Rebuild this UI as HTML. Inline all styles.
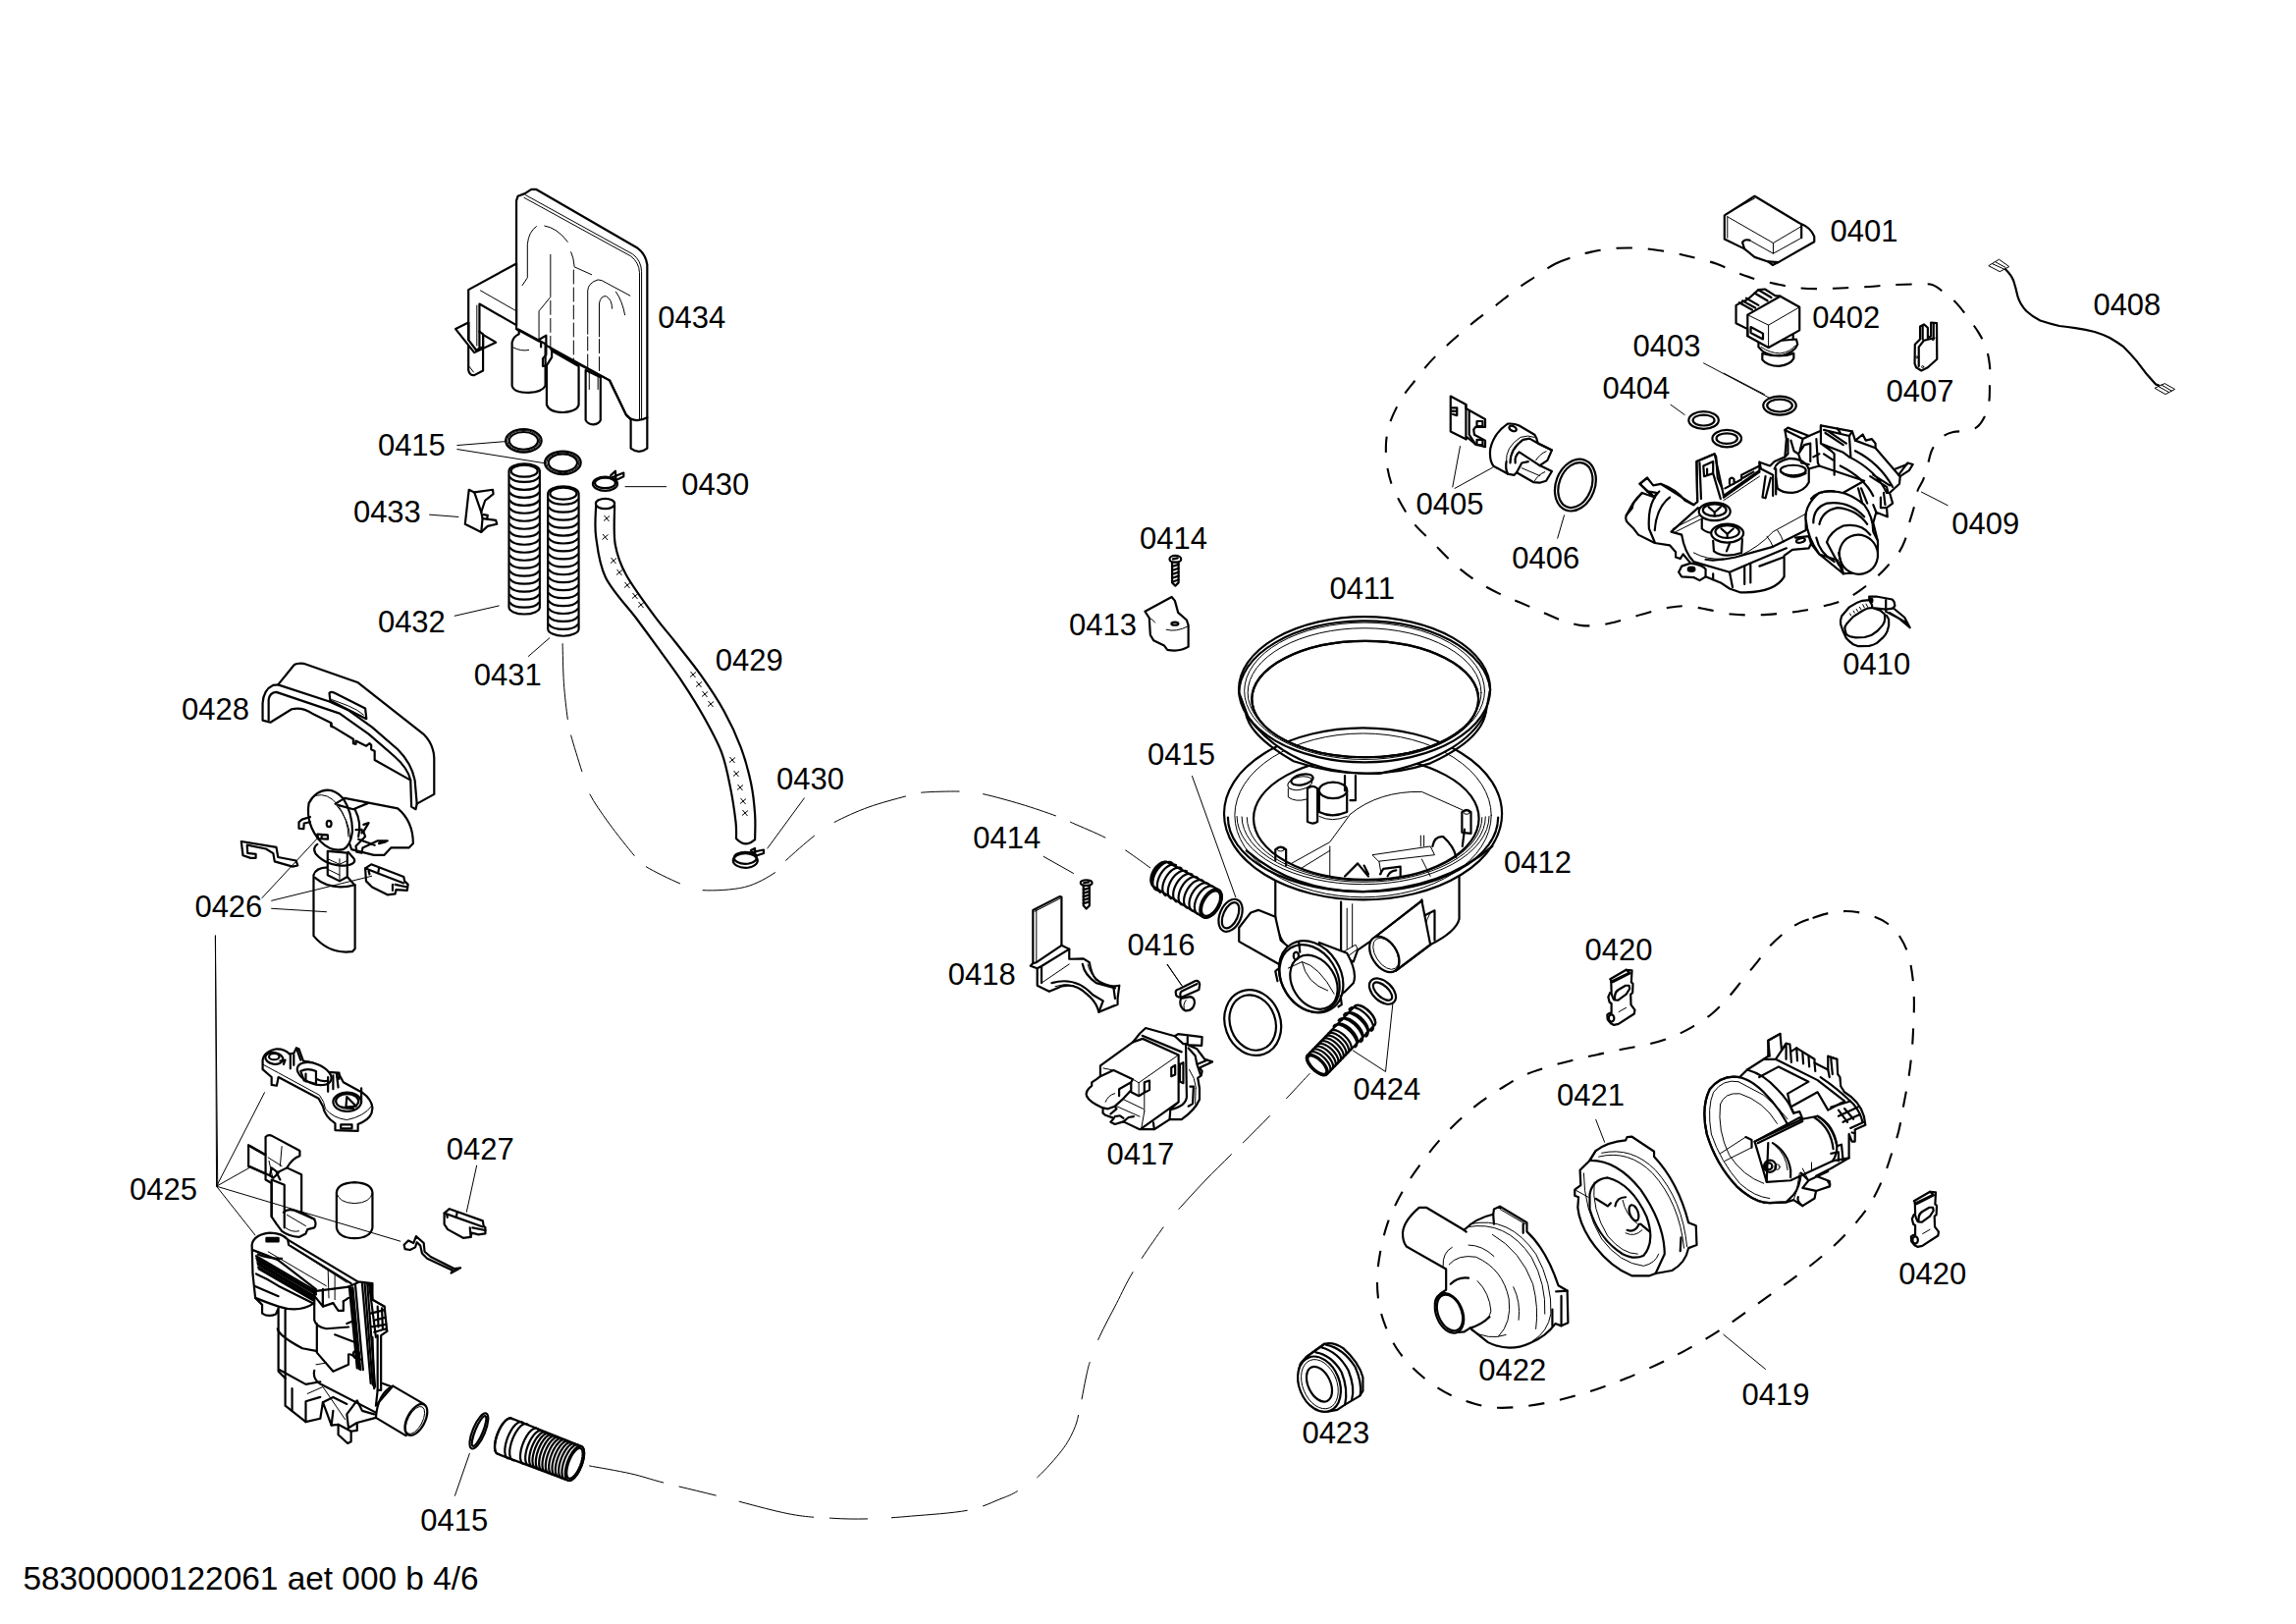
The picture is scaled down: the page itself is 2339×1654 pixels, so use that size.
<!DOCTYPE html>
<html><head><meta charset="utf-8"><title>Parts diagram</title>
<style>
html,body{margin:0;padding:0;background:#fff}
svg{display:block}
path,ellipse,circle,line,polyline,polygon,rect{vector-effect:non-scaling-stroke}
.t{font-family:"Liberation Sans",Arial,sans-serif;font-size:31px;fill:#000}
.k{fill:none;stroke:#000;stroke-width:2.2;stroke-linejoin:round;stroke-linecap:round}
.f{fill:#fff;stroke:#000;stroke-width:2.2;stroke-linejoin:round;stroke-linecap:round}
.w{fill:#fff;stroke:#000;stroke-width:2.2;stroke-linejoin:round;stroke-linecap:round}
.n{fill:none;stroke:#000;stroke-width:1;stroke-linejoin:round;stroke-linecap:round}
.l{fill:none;stroke:#000;stroke-width:1}
.d{fill:none;stroke:#000;stroke-width:2.1;stroke-dasharray:16.3 16}

</style></head>
<body>
<svg width="2339" height="1654" viewBox="0 0 2339 1654">
<rect width="2339" height="1654" fill="#fff"/>
<!-- 10_0434.svg -->
<g transform="translate(340,160) scale(0.261324)">
<path class="f" d="M712,670 L712,170 L718,152 L745,142 L770,126 L790,126 L1185,355 Q1216,378 1222,420 L1222,1135 Q1190,1160 1158,1135 L1158,1022 L1140,1005 L1075,870 Z"/>
<path class="n" d="M748,148 L1165,378 Q1198,402 1200,445 L1200,1020 M742,158 L1158,386 Q1190,410 1192,450 L1192,1022"/>
<path class="k" d="M1158,1020 Q1185,1034 1222,1015"/>
<path class="f" d="M712,415 L525,517 L525,830 Q530,852 548,850 L582,832 L582,690 L568,680 L568,572 L712,655 Z"/>
<path class="k" d="M568,680 L568,740"/>
<path class="n" d="M572,520 L712,600 M558,578 L558,735 M525,812 L545,838"/>
<path class="w" d="M525,645 L475,670 L548,762 L632,722 L582,692 L582,740 L555,752 L525,712 Z"/>
<path class="k" d="M525,645 L525,712 M582,692 L582,740"/>
<path class="f" d="M695,722 Q700,700 722,690 L722,672 L825,728 L825,890 Q815,915 760,918 Q700,918 695,890 Z"/>
<path class="n" d="M700,742 Q730,758 760,752"/>
<path class="f" d="M830,812 L830,965 Q840,995 895,995 Q950,990 955,965 L955,815 L850,755 L850,780 Z"/>
<path class="k" d="M800,712 L828,695 L828,770 L815,785 L815,815 L830,812 M808,740 L808,720"/>
<path class="f" d="M982,830 L982,1025 Q990,1042 1012,1042 Q1035,1040 1040,1025 L1040,858 Z"/>
<path class="n" d="M996,838 L996,905 M1030,856 L1030,905"/>
<path class="k" d="M712,670 L800,718 M850,752 L1075,870 L1140,1005 L1158,1022"/>
<path class="n" d="M735,500 L755,470 L755,340 Q760,290 790,270 M822,268 Q870,275 912,330 M925,370 Q935,390 938,425 M845,380 L845,545 L800,600 L800,712 M938,428 L1005,458 M990,690 L990,520 Q992,490 1030,478 Q1045,478 1062,490 L1155,540 M1035,700 L1035,570 Q1040,540 1062,542 Q1085,555 1085,590 M1100,525 Q1125,560 1135,615"/>
<path class="n" stroke-dasharray="14 4" d="M845,560 L845,760 M935,440 L935,800 M990,700 L990,830 M1035,710 L1035,850"/>
</g>
<!-- 11_rings_clip.svg -->
<g transform="translate(340,400) scale(0.261324)">
<ellipse class="f" cx="740" cy="187" rx="70" ry="45"/><ellipse class="n" cx="740" cy="187" rx="64" ry="40"/><ellipse class="w" cx="740" cy="187" rx="56" ry="34"/>
<ellipse class="f" cx="893" cy="273" rx="70" ry="45"/><ellipse class="n" cx="893" cy="273" rx="64" ry="40"/><ellipse class="w" cx="893" cy="273" rx="56" ry="34"/>
<path class="f" d="M527,378 L548,388 L620,378 L622,395 L590,420 L575,465 L580,490 L632,497 L636,512 L600,520 L575,543 L512,512 Z"/>
<path class="k" d="M548,388 L575,465 M575,543 L580,490 M585,475 L600,478 L598,490"/>
<ellipse class="k" cx="1058" cy="355" rx="48" ry="27"/><ellipse class="k" cx="1058" cy="352" rx="40" ry="20"/>
<path class="k" d="M1085,330 L1130,312 L1130,326 L1098,342 M1080,322 L1098,305 L1100,335" stroke-width="2.5"/>
</g>
<!-- 12_hoses.svg -->
<g transform="translate(340,400) scale(0.261324)">
<path class="f" d="M683,305 L683,835 A60,28 0 0 0 803,835 L803,305 A60,28 0 0 0 683,305 Z"/>
<ellipse class="f" cx="743" cy="305" rx="52" ry="23"/>
<path class="k" d="M686,328.188 A60,28 0 0 0 800,328.188 M686,358.776 A60,28 0 0 0 800,358.776 M686,389.365 A60,28 0 0 0 800,389.365 M686,419.953 A60,28 0 0 0 800,419.953 M686,450.541 A60,28 0 0 0 800,450.541 M686,481.129 A60,28 0 0 0 800,481.129 M686,511.718 A60,28 0 0 0 800,511.718 M686,542.306 A60,28 0 0 0 800,542.306 M686,572.894 A60,28 0 0 0 800,572.894 M686,603.482 A60,28 0 0 0 800,603.482 M686,634.071 A60,28 0 0 0 800,634.071 M686,664.659 A60,28 0 0 0 800,664.659 M686,695.247 A60,28 0 0 0 800,695.247 M686,725.835 A60,28 0 0 0 800,725.835 M686,756.424 A60,28 0 0 0 800,756.424 M686,787.012 A60,28 0 0 0 800,787.012 M686,817.6 A60,28 0 0 0 800,817.6"/>
<path class="f" d="M835,393 L835,920 A60,28 0 0 0 955,920 L955,393 A60,28 0 0 0 835,393 Z"/>
<ellipse class="f" cx="895" cy="393" rx="52" ry="23"/>
<path class="k" d="M838,416.012 A60,28 0 0 0 952,416.012 M838,446.424 A60,28 0 0 0 952,446.424 M838,476.835 A60,28 0 0 0 952,476.835 M838,507.247 A60,28 0 0 0 952,507.247 M838,537.659 A60,28 0 0 0 952,537.659 M838,568.071 A60,28 0 0 0 952,568.071 M838,598.482 A60,28 0 0 0 952,598.482 M838,628.894 A60,28 0 0 0 952,628.894 M838,659.306 A60,28 0 0 0 952,659.306 M838,689.718 A60,28 0 0 0 952,689.718 M838,720.129 A60,28 0 0 0 952,720.129 M838,750.541 A60,28 0 0 0 952,750.541 M838,780.953 A60,28 0 0 0 952,780.953 M838,811.365 A60,28 0 0 0 952,811.365 M838,841.776 A60,28 0 0 0 952,841.776 M838,872.188 A60,28 0 0 0 952,872.188 M838,902.6 A60,28 0 0 0 952,902.6"/>
</g>
<!-- 13_0429.svg -->
<path class="f" d="M607.1,515.0 C607.1,520.2 605.5,534.1 607.1,546.3 C608.8,558.5 610.1,574.2 617.0,588.2 C623.9,602.2 639.6,618.2 648.4,630.0 C657.2,641.8 661.9,648.2 669.8,659.2 C677.7,670.2 688.1,684.0 695.9,695.8 C703.7,707.6 710.3,718.0 716.8,729.8 C723.3,741.5 730.5,754.1 735.1,766.3 C739.7,778.5 741.8,791.1 744.2,802.9 C746.6,814.7 748.5,828.4 749.5,836.9 C750.5,845.4 749.9,851.1 750.0,853.9 Q759,864 769.1,855.2 L769.1,855.2 C769.1,850.9 769.8,838.7 769.1,829.1 C768.4,819.5 767.5,809.0 765.1,797.7 C762.7,786.4 759.3,773.3 754.7,761.1 C750.1,748.9 744.5,736.7 737.7,724.5 C731.0,712.3 722.5,699.6 714.2,687.9 C705.9,676.1 695.9,664.1 688.0,654.0 C680.1,643.9 675.1,638.8 666.7,627.4 C658.4,616.0 644.6,597.7 637.9,585.5 C631.2,573.3 628.7,566.0 626.7,554.2 C624.7,542.5 626.2,521.5 626.1,515.0 Z"/>
<ellipse class="f" cx="616.5" cy="513" rx="9.6" ry="5.2"/>
<ellipse class="k" cx="759.3" cy="876.5" rx="12.5" ry="7.3"/><ellipse class="k" cx="759.3" cy="873.8" rx="11.5" ry="6"/>
<path class="k" d="M766,868 L778,865.5 L778,869 L769,872 M765,866 L769,864 L769.5,871"/>
<!-- 14_0428.svg -->
<g transform="translate(170,650) scale(0.174216)">
<path class="f" d="M560,480 L560,380 Q565,300 620,275 L650,272 L745,155 Q760,145 800,148 L1115,258 L1500,560 Q1560,620 1563,700 L1563,912 L1462,968 L1455,1000 L1430,985 L1425,830 L1215,712 L1215,660 L1195,650 L1195,625 L1185,615 L1165,630 L1105,600 L1105,620 L1090,615 L1090,590 L975,520 L960,515 L960,495 L850,440 Q790,400 730,415 L605,492 Z"/>
<path class="k" d="M650,272 L950,370 L1060,420 L1200,520 L1350,650 Q1430,730 1450,830 L1462,968"/>
<path class="k" d="M595,480 L595,360 Q600,318 640,315 L1010,440 L1180,560 L1330,690 Q1410,760 1425,830"/>
<path class="k" d="M950,320 Q960,310 978,318 L1160,410 L1167,472 L955,365 Z"/>
<path class="n" d="M962,358 L1060,395 Q1120,420 1150,448"/>
<path class="k" d="M1092,595 L1092,612 M962,498 L962,512" stroke-width="3"/>
</g>
<!-- 15_0426.svg -->
<g transform="translate(170,650) scale(0.174216)">
<path class="f" d="M1040,935 L1350,995 Q1440,1070 1440,1200 L1415,1225 L1310,1225 L1270,1268 L1210,1268 L1080,1235 L1000,1000 Z"/>
<path class="f" d="M858,1385 Q870,1342 940,1340 L1055,1395 L1100,1445 L1100,1815 L1085,1832 Q950,1850 858,1740 Z"/>
<path class="k" d="M866,1400 Q960,1480 1100,1442"/>
<path class="f" d="M940,1245 L940,1385 L1010,1420 L1055,1395 L1055,1255 Z"/>
<path class="n" d="M1010,1290 L1010,1420 M940,1290 L1010,1322 L1055,1300 M940,1350 L1010,1385"/>
<path class="k" d="M880,1205 Q850,1225 870,1260 Q930,1330 1040,1330 Q1110,1320 1095,1290 L1060,1250"/>
<path class="f" d="M830,965 Q870,890 940,888 Q985,888 1030,935 Q1085,1020 1085,1130 Q1075,1215 1030,1235 Q960,1250 900,1190 Q810,1090 830,965 Z"/>
<path class="n" d="M870,920 Q940,900 1000,975 Q1060,1060 1062,1160 M985,968 Q1070,1060 1072,1175"/>
<path class="k" d="M985,968 L1040,935 M1000,975 L1090,1000 L1175,965 M1100,1000 Q1140,1080 1120,1160"/>
<ellipse class="k" cx="948" cy="1085" rx="14" ry="18" stroke-width="1.6"/>
<path class="k" d="M838,1045 L790,1060 L772,1075 L772,1112 L800,1115 L802,1082 L838,1075"/>
<path class="k" d="M880,1145 L940,1150 L942,1175 L885,1172 Z M905,1148 L905,1172" stroke-width="2.6"/>
<path class="k" d="M1150,1090 L1180,1080 L1150,1130 L1160,1160 L1105,1215 L1110,1250 L1140,1255 L1145,1225 L1230,1185 L1290,1185 M1105,1120 L1140,1118 L1140,1140 M1120,1175 L1215,1210 M1240,1200 L1280,1190 L1245,1195"  stroke-width="2.4"/>
<path class="f" d="M435,1188 L640,1222 L650,1280 L755,1300 L765,1328 L735,1335 L630,1305 L622,1258 L579,1231 L469,1209 L472,1256 L520,1262 L520,1285 L490,1285 L445,1270 Z" stroke-width="2.6"/>
<path class="f" d="M1160,1345 L1195,1322 L1385,1395 L1390,1420 L1410,1440 L1405,1475 L1340,1470 L1335,1495 L1290,1500 L1200,1455 L1165,1420 Z"/>
<path class="k" d="M1160,1345 L1235,1375 L1385,1432 M1235,1375 L1240,1345 M1320,1440 L1320,1475 M1335,1440 L1405,1455 M1180,1360 L1185,1380"/>
</g>
<!-- 16_0425a.svg -->
<g transform="translate(200,1050) scale(0.174216)">
<path class="f" d="M388,170 Q395,120 470,105 Q520,105 545,135 L570,130 L585,100 L600,105 L625,175 Q700,180 770,240 L830,245 L860,300 L970,360 Q1025,400 1030,450 L1025,480 Q1010,520 945,545 L945,585 L812,580 L812,540 Q750,500 740,440 L715,395 L480,270 L470,320 L440,315 L440,270 L388,225 Z"/>
<path class="n" d="M388,195 L480,245 L720,375 Q750,415 755,455 Q800,510 880,520 Q980,500 1025,440"/>
<ellipse class="k" cx="455" cy="160" rx="52" ry="34" transform="rotate(10 455 160)"/><ellipse class="k" cx="455" cy="150" rx="30" ry="18"/>
<path class="k" d="M490,175 L520,170 L510,195"/>
<ellipse class="w" cx="690" cy="250" rx="105" ry="58" transform="rotate(22 690 250)"/>
<path class="k" d="M610,235 Q650,215 700,235 L700,310 L630,290 Z M640,250 L640,295 M700,280 Q740,300 770,290" stroke-width="2.4"/>
<path class="k" d="M550,135 L550,220 M570,140 L570,200 M585,100 L610,170 M770,270 L770,355 M800,260 L800,340 M820,250 L830,330 M835,245 L835,280" stroke-width="2.4"/>
<ellipse class="w" cx="882" cy="415" rx="82" ry="55"/><ellipse class="k" cx="882" cy="410" rx="66" ry="42"/>
<path class="k" d="M880,385 L875,445 L935,440 Z M965,335 L965,420 M850,445 L920,455" stroke-width="2.2"/>
<path class="k" d="M845,548 L910,548 L910,570 L845,570 Z"/>
<path class="f" d="M405,620 Q420,605 440,612 L605,700 L605,730 Q560,745 530,800 L615,840 L615,1060 L690,1100 Q705,1130 690,1150 L650,1160 L640,1185 L600,1205 Q540,1200 500,1170 L470,1130 L440,1085 L440,890 L405,870 L405,725 L305,668 L305,790 L405,835 Z"/>
<path class="k" d="M305,668 L405,725 M305,790 L440,850 M440,870 L515,900 L515,1150 M510,1060 Q540,1030 600,1060 L690,1100 M440,870 L440,1085 M530,800 L470,830 L490,870"/>
<path class="n" d="M500,675 L490,790 M420,740 L500,790 M425,760 L445,850 M530,1075 L640,1140 M520,1150 Q560,1180 600,1170"/>
<path class="k" d="M440,800 L480,830 L450,860 L430,845 Z" stroke-width="3"/>
<path class="f" d="M820,945 Q825,890 925,885 Q1025,890 1030,945 L1030,1150 Q1020,1210 925,1212 Q830,1210 820,1150 Z"/>
<path class="n" d="M820,945 Q830,1005 925,1008 Q1020,1005 1030,945"/>
<path class="f" d="M1450,1065 L1480,1040 L1675,1110 L1680,1140 L1690,1150 L1690,1185 L1650,1190 L1610,1180 L1605,1205 L1560,1210 L1470,1160 L1450,1130 Z"/>
<path class="k" d="M1450,1065 L1520,1090 L1675,1145 M1520,1090 L1525,1060 M1600,1150 L1605,1205 M1615,1150 L1690,1165 M1465,1075 L1468,1090"/>
<path class="f" d="M1215,1250 L1240,1225 L1270,1240 L1285,1200 L1330,1240 L1335,1290 L1370,1320 L1510,1390 L1545,1385 L1490,1415 L1500,1400 L1350,1330 L1320,1300 L1310,1255 L1290,1235 L1280,1265 L1250,1280 L1220,1275 Z"/>
</g>
<!-- 17_0425b.svg -->
<g transform="translate(200,1240) scale(0.174216)">
<path class="f" d="M325,160 Q335,100 430,90 Q500,90 535,130 L945,375 L1030,385 L1030,480 L1100,520 L1115,665 L1080,690 L1080,1010 L1060,1010 L1050,1100 L1150,985 L1330,1090 Q1350,1180 1225,1275 L1050,1170 L940,1200 L940,1245 L905,1250 L905,1310 L885,1320 L830,1270 L830,1210 L790,1215 L740,1080 L725,1175 L640,1195 L520,1100 L520,940 L480,900 L480,530 L465,565 Q420,585 385,560 L385,510 L345,470 L330,330 Z"/>
<path class="k" d="M330,190 Q400,215 480,250 L700,420 M535,130 L540,160 L905,385 M345,470 Q420,500 480,520 Q600,560 690,500 M690,430 L690,600 Q700,640 760,650 L890,640 M705,620 L705,790 L800,900 L890,860 L890,800 M475,650 Q480,690 620,765 L700,780 M485,890 L640,975 L725,960 M690,895 Q680,940 720,970 L1050,1140 M1090,970 L1145,990 M640,1195 L640,1075 L725,1050 M520,540 L520,940 M560,1000 L560,1130 M740,1080 L800,1050 L880,1090"/>
<path class="k" d="M350,225 L700,430 M355,250 L700,450 M360,275 L690,470 M365,300 L690,488 M360,215 Q420,240 500,240" stroke-width="3"/>
<path class="n" d="M540,160 L880,380 M420,200 L760,400 M770,300 L775,470 M810,330 L810,480 M700,860 L760,850 M650,1030 L740,990 L870,1180"/>
<path class="k" d="M410,120 L480,120 L480,140 L410,140 Z" style="fill:#000"/>
<path class="k" d="M895,410 L940,880 M915,410 L960,890 M970,390 L1020,970 M1000,385 L1045,990 M1020,385 L1030,480 M890,405 L945,380 M1020,560 L1100,540 M1020,640 L1110,625 M1040,670 L1110,650 L1115,665 M810,685 L930,730 M900,800 L960,830 M700,470 L740,520 L740,420 M800,500 L830,545 L860,545 L860,490" stroke-width="3"/>
<ellipse class="k" cx="935" cy="800" rx="18" ry="22"/>
<ellipse class="w" cx="1285" cy="1182" rx="52" ry="100" transform="rotate(28 1285 1182)"/>
<ellipse class="n" cx="1280" cy="1185" rx="42" ry="88" transform="rotate(28 1280 1185)"/>
<path class="k" d="M1150,985 Q1060,1030 1050,1170 M880,1150 L940,1070 L970,1130 L1040,1150 M880,1150 L890,1230 L940,1200 M790,1215 L800,1130 M830,1210 L905,1250"/>


<path class="k" d="M352,238 L700,442 M358,264 L695,462 M362,290 L690,480 M350,330 Q420,360 480,400 L690,505 M340,400 L480,460" stroke-width="3"/>
<path class="k" d="M905,410 L950,885 M985,388 L1032,980 M1010,385 L1050,700 M930,395 L975,890" stroke-width="4"/>
<path class="k" d="M1030,480 L1100,520 M1045,600 L1105,585 M1060,520 L1065,640 M1085,530 L1090,650 M1030,700 L1040,1000 M1060,690 L1060,1010 M880,620 L930,600 M700,430 L890,405 M740,420 L740,520 L800,500 M860,490 L890,470" stroke-width="2.4"/>
</g>
<!-- 18_hose_bl.svg -->
<g transform="translate(460,1420) scale(0.087108)">
<path class="f" d="M538.7,698.2 L524.8,688.2 L514.5,670.6 L508.3,646.0 L506.3,615.4 L508.7,580.0 L515.4,541.1 L526.1,500.3 L540.3,459.0 L557.6,419.0 L577.3,381.6 L598.6,348.4 L620.7,320.6 L642.8,299.4 L663.9,285.4 L683.4,279.3 L700.4,281.3 L1517.7,607.6 L1531.7,617.4 L1542.2,634.6 L1548.7,658.4 L1551.0,688.0 L1549.1,722.2 L1543.0,759.7 L1532.9,799.0 L1519.2,838.7 L1502.6,877.3 L1483.5,913.1 L1462.7,944.9 L1441.1,971.5 L1419.4,991.7 L1398.5,1005.0 L1379.2,1010.6 L1362.3,1008.4 Z"/>
<path class="k" d="M1324.0,993.6 L1310.1,983.8 L1299.6,966.6 L1293.1,942.8 L1290.8,913.2 L1292.7,879.0 L1298.8,841.5 L1308.9,802.1 L1322.5,762.4 L1339.2,723.9 L1358.3,688.1 L1379.1,656.3 L1400.7,629.7 L1422.4,609.4 L1443.3,596.2 L1462.6,590.6 L1479.5,592.7 M1285.8,978.8 L1271.8,968.9 L1261.4,951.8 L1254.9,927.9 L1252.5,898.4 L1254.5,864.2 L1260.6,826.7 L1270.7,787.3 L1284.3,747.6 L1301.0,709.1 L1320.1,673.2 L1340.9,641.4 L1362.5,614.9 L1384.2,594.6 L1405.1,581.4 L1424.3,575.8 L1441.3,577.9 M1247.6,964.0 L1233.6,954.1 L1223.2,936.9 L1216.7,913.1 L1214.3,883.5 L1216.2,849.3 L1222.4,811.8 L1232.4,772.5 L1246.1,732.8 L1262.8,694.3 L1281.9,658.4 L1302.6,626.6 L1324.3,600.0 L1345.9,579.8 L1366.8,566.6 L1386.1,560.9 L1403.1,563.1 M1209.3,949.1 L1195.4,939.3 L1184.9,922.1 L1178.4,898.3 L1176.1,868.7 L1178.0,834.5 L1184.1,797.0 L1194.2,757.7 L1207.9,718.0 L1224.5,679.4 L1243.6,643.6 L1264.4,611.8 L1286.0,585.2 L1307.7,564.9 L1328.6,551.7 L1347.9,546.1 L1364.8,548.2 M1171.1,934.3 L1157.2,924.5 L1146.7,907.3 L1140.2,883.5 L1137.9,853.9 L1139.8,819.7 L1145.9,782.2 L1156.0,742.8 L1169.6,703.1 L1186.3,664.6 L1205.4,628.8 L1226.2,596.9 L1247.8,570.4 L1269.5,550.1 L1290.4,536.9 L1309.7,531.3 L1326.6,533.4 M1132.9,919.5 L1118.9,909.6 L1108.5,892.5 L1102.0,868.6 L1099.6,839.0 L1101.6,804.8 L1107.7,767.4 L1117.8,728.0 L1131.4,688.3 L1148.1,649.8 L1167.2,613.9 L1188.0,582.1 L1209.6,555.6 L1231.3,535.3 L1252.2,522.1 L1271.4,516.4 L1288.4,518.6 M1094.7,904.7 L1080.7,894.8 L1070.3,877.6 L1063.7,853.8 L1061.4,824.2 L1063.3,790.0 L1069.5,752.5 L1079.5,713.2 L1093.2,673.5 L1109.9,635.0 L1129.0,599.1 L1149.7,567.3 L1171.4,540.7 L1193.0,520.5 L1213.9,507.3 L1233.2,501.6 L1250.2,503.8 M1056.4,889.8 L1042.5,880.0 L1032.0,862.8 L1025.5,839.0 L1023.2,809.4 L1025.1,775.2 L1031.2,737.7 L1041.3,698.3 L1055.0,658.6 L1071.6,620.1 L1090.7,584.3 L1111.5,552.5 L1133.1,525.9 L1154.8,505.6 L1175.7,492.4 L1195.0,486.8 L1211.9,488.9 M1018.2,875.0 L1004.3,865.2 L993.8,848.0 L987.3,824.2 L985.0,794.6 L986.9,760.4 L993.0,722.9 L1003.1,683.5 L1016.7,643.8 L1033.4,605.3 L1052.5,569.5 L1073.3,537.6 L1094.9,511.1 L1116.6,490.8 L1137.5,477.6 L1156.8,472.0 L1173.7,474.1 M980.0,860.2 L966.0,850.3 L955.6,833.2 L949.1,809.3 L946.7,779.7 L948.7,745.5 L954.8,708.0 L964.9,668.7 L978.5,629.0 L995.2,590.5 L1014.3,554.6 L1035.1,522.8 L1056.7,496.3 L1078.4,476.0 L1099.3,462.8 L1118.5,457.1 L1135.5,459.3 M941.8,845.4 L927.8,835.5 L917.4,818.3 L910.8,794.5 L908.5,764.9 L910.4,730.7 L916.6,693.2 L926.6,653.9 L940.3,614.2 L957.0,575.7 L976.1,539.8 L996.8,508.0 L1018.5,481.4 L1040.1,461.2 L1061.0,448.0 L1080.3,442.3 L1097.3,444.5 M911.0,829.9 L892.7,826.1 L878.2,812.9 L868.3,790.8 L863.3,761.0 L863.6,724.8 L869.2,684.0 L879.6,640.6 L894.6,596.4 L913.3,553.8 L934.9,514.6 L958.3,480.8 L982.5,453.9 L1006.2,435.2 L1028.4,425.6 L1048.1,425.6 L1064.2,435.1 M853.2,814.3 L834.3,810.4 L819.4,796.7 L809.2,774.0 L804.1,743.3 L804.4,706.1 L810.1,664.1 L820.9,619.3 L836.3,573.8 L855.5,529.9 L877.8,489.5 L901.9,454.7 L926.8,427.0 L951.2,407.7 L974.1,397.9 L994.3,397.8 L1010.9,407.7 M730.1,773.4 L710.7,769.3 L695.3,755.3 L684.8,731.9 L679.6,700.3 L679.9,662.0 L685.7,618.7 L696.8,572.7 L712.7,525.9 L732.5,480.7 L755.4,439.2 L780.2,403.3 L805.8,374.8 L831.0,355.0 L854.6,344.8 L875.4,344.8 L892.4,354.9 M674.2,751.7 L654.8,747.6 L639.4,733.6 L628.9,710.2 L623.6,678.6 L623.9,640.3 L629.8,597.0 L640.9,551.0 L656.8,504.2 L676.6,459.0 L699.5,417.5 L724.3,381.6 L749.9,353.1 L775.1,333.3 L798.6,323.1 L819.4,323.1 L836.5,333.2 M554.2,700.6 L535.2,696.6 L520.1,682.9 L509.8,659.9 L504.6,628.9 L504.9,591.3 L510.7,548.9 L521.6,503.7 L537.1,457.8 L556.6,413.4 L579.0,372.7 L603.4,337.5 L628.5,309.5 L653.2,290.1 L676.3,280.1 L696.7,280.1 L713.5,290.0"/>
<path class="w" d="M1519.2,838.7 L1502.6,877.3 L1483.5,913.1 L1462.7,944.9 L1441.1,971.5 L1419.4,991.7 L1398.5,1005.0 L1379.2,1010.6 L1362.3,1008.4 L1348.3,998.6 L1337.8,981.4 L1331.3,957.6 L1329.0,928.0 L1330.9,893.8 L1337.0,856.3 L1347.1,817.0 L1360.8,777.3 L1377.4,738.7 L1396.5,702.9 L1417.3,671.1 L1438.9,644.5 L1460.6,624.3 L1481.5,611.0 L1500.8,605.4 L1517.7,607.6 L1531.7,617.4 L1542.2,634.6 L1548.7,658.4 L1551.0,688.0 L1549.1,722.2 L1543.0,759.7 L1532.9,799.0 L1519.2,838.7 Z"/>
<path class="k" d="M1505.0,833.2 L1490.4,867.1 L1473.9,898.8 L1456.0,927.0 L1437.6,950.6 L1419.2,968.7 L1401.7,980.6 L1385.6,985.9 L1371.6,984.4 L1360.2,976.1 L1351.9,961.3 L1347.0,940.7 L1345.7,914.9 L1348.0,885.0 L1353.8,852.2 L1362.9,817.7 L1375.0,782.8 L1389.6,748.9 L1406.1,717.2 L1424.0,689.0 L1442.4,665.4 L1460.8,647.3 L1478.3,635.4 L1494.4,630.1 L1508.4,631.6 L1519.8,639.9 L1528.1,654.7 L1533.0,675.3 L1534.3,701.1 L1532.0,731.0 L1526.2,763.8 L1517.1,798.3 L1505.0,833.2 Z"/>
<ellipse class="k" cx="320" cy="430" rx="72" ry="222" transform="rotate(22.5 320 430)"/><ellipse class="k" cx="322" cy="430" rx="45" ry="190" transform="rotate(22.5 322 430)"/>
</g>
<!-- 30_0412.svg -->
<g transform="translate(1100,740) scale(0.217770)">
<path class="f" d="M915,700 L915,900 Q930,1000 980,1040 L1080,1010 L1280,1100 L1300,1045 L1380,990 L1480,1140 L1640,1020 Q1760,960 1775,900 L1775,680 Z"/>
<path class="f" d="M745,1005 L745,940 L800,870 L835,858 L915,890 L940,1000 L1000,1050 L930,1110 Z"/>
<path class="k" d="M1222,820 L1222,1080 M1600,810 L1600,890 L1640,870 L1660,860 L1660,1000"/>
<path class="n" d="M1275,830 L1275,1030 M1640,870 Q1600,940 1620,1000 M1222,1060 L1290,1020 L1300,1040 L1240,1085 M1250,850 L1250,1040"/>
<path class="f" d="M1380,985 L1600,815 L1640,1020 L1480,1140 Z" stroke="none"/>
<path class="k" d="M1380,985 L1600,815 M1480,1140 L1640,1020"/>
<ellipse class="w" cx="1425" cy="1065" rx="58" ry="92" transform="rotate(-33 1425 1065)"/>
<ellipse class="n" cx="1432" cy="1062" rx="48" ry="82" transform="rotate(-33 1432 1062)"/>
<path class="f" d="M1120,1010 L1250,1060 Q1300,1150 1280,1200 L1240,1240 L1100,1330 Z"/>
<ellipse class="f" cx="1082" cy="1170" rx="138" ry="178" transform="rotate(-32 1082 1170)"/>
<ellipse class="k" cx="1075" cy="1178" rx="128" ry="168" transform="rotate(-32 1075 1178)"/>
<ellipse class="w" cx="1095" cy="1195" rx="100" ry="135" transform="rotate(-32 1095 1195)"/>
<path class="n" d="M975,1130 L1040,1100 Q1060,1200 1160,1235 M1040,1100 Q1120,1120 1190,1250"/>
<ellipse class="k" cx="1012" cy="1072" rx="12" ry="18" stroke-width="1.6"/>
<path class="k" d="M925,1135 L915,1145 L925,1190 M1220,1260 L1225,1300 L1210,1310 M1025,1010 L1030,1055"/>
<ellipse class="f" cx="1325" cy="408" rx="650" ry="402"/>
<path class="k" d="M693,425 A632,347 0 0 0 1957,425"/>
<ellipse class="n" cx="1325" cy="415" rx="600" ry="383"/>
<path class="n" d="M735,420 A590,318 0 0 0 1915,420"/>
<path class="n" d="M758,422 A570,305 0 0 0 1898,422"/>
<path class="n" d="M782,425 A550,296 0 0 0 1882,425"/>
<ellipse class="w" cx="1340" cy="430" rx="527" ry="286"/>
<path class="k" d="M1120,300 L1120,400 Q1180,430 1250,400 L1250,300"/><ellipse class="w" cx="1185" cy="298" rx="65" ry="38"/>
<path class="k" d="M1065,290 L1065,445 Q1090,460 1112,445 L1112,290 Q1090,270 1065,290 M1240,230 L1240,300 M1290,230 L1290,345 L1265,345"/>
<path class="n" d="M975,290 L975,330 Q1010,355 1060,340 M1120,420 Q1180,450 1250,420"/>
<ellipse class="k" cx="1040" cy="248" rx="52" ry="24" transform="rotate(-12 1040 248)"/><ellipse class="n" cx="1030" cy="265" rx="58" ry="30" transform="rotate(-12 1030 265)"/>
<path class="k" d="M1788,400 L1788,495 L1830,500 L1830,400 Q1810,380 1788,400 M915,575 L915,625 M965,575 L965,650 M915,575 Q940,550 965,575"/>
<ellipse class="n" cx="940" cy="575" rx="16" ry="8"/><ellipse class="n" cx="1810" cy="402" rx="14" ry="8"/>
<path class="n" d="M1265,410 Q1400,300 1600,305 L1790,390 M1265,410 L1170,540 L990,640 M1170,560 L1170,700 M1040,660 L1170,580 M1370,600 L1640,560 L1660,600 L1400,630 Z M1400,630 L1410,690 M1600,620 L1640,700 M1595,510 L1595,560 M1610,510 L1610,560"/>
<path class="k" d="M1650,560 Q1660,510 1700,515 Q1750,560 1760,610 M1405,690 L1420,665 L1500,655 L1500,700 M1440,700 Q1450,675 1480,672 M1240,700 L1300,640 L1350,700 M1330,650 L1350,690 M1800,480 L1790,560"/>
<path class="k" d="M780,580 Q1000,770 1325,772 Q1700,760 1930,560"/>
</g>
<!-- 32_0411.svg -->
<g transform="translate(1100,540) scale(0.217770)">
<path class="f" fill-rule="evenodd" d="M745,760 A588,340 0 0 1 1920,745 L1900,850 Q1800,1060 1400,1138 Q1000,1150 790,880 Z M805,790 A530,272 0 0 0 1865,790 A530,272 0 0 0 805,790 Z"/>
<ellipse class="k" cx="1332" cy="745" rx="588" ry="340"/>
<path class="k" d="M775,850 Q790,960 1000,1080 Q1330,1190 1640,1090 Q1880,980 1900,850"/>
<ellipse class="n" cx="1332" cy="752" rx="562" ry="320"/>
<ellipse class="n" cx="1332" cy="760" rx="546" ry="302"/>
<ellipse class="k" cx="1335" cy="790" rx="530" ry="272"/>
<path class="f" d="M305,380 L430,312 L445,330 L460,385 L500,420 L508,445 L508,545 Q470,570 410,560 L395,540 L345,515 L330,490 L325,410 Z"/>
<path class="n" d="M325,410 Q340,415 352,432 M405,465 Q450,478 505,450"/>
<ellipse class="k" cx="445" cy="437" rx="16" ry="7" stroke-width="2.6"/>
<ellipse class="f" cx="447" cy="135" rx="27" ry="16"/>
<path class="f" d="M432,150 L432,245 L447,260 L462,245 L462,150 Z"/>
<path class="k" d="M432,170 L462,160 M432,188 L462,178 M432,206 L462,196 M432,224 L462,214 M432,242 L462,232 M436,135 L458,130" stroke-width="1.6"/>
</g>
<!-- 34_0417.svg -->
<g transform="translate(1080,1030) scale(0.087108)">
<path class="f" d="M470,635 L850,360 L935,255 L1000,195 L1340,290 L1380,265 L1660,300 L1655,400 L1500,395 L1600,440 L1690,560 L1780,590 L1630,660 L1660,700 L1650,750 L1610,780 L1630,900 L1630,1030 Q1580,1150 1420,1265 L1280,1265 L1100,1380 L930,1380 L740,1290 L640,1320 L590,1295 L630,1250 L530,1215 L500,1190 L500,1130 Q340,1060 310,990 Q290,930 370,870 L370,830 L430,790 L470,760 Z" stroke-width="2.4"/>
<path class="k" d="M965,320 L1385,510 L1385,1060 L950,1370 M965,320 L850,360 M470,760 L625,690 L850,795 L830,830 L830,945 L920,990 L985,950 L1045,920 L1045,810 L985,830 L985,950 M830,830 L690,910 L690,990 M740,1020 L830,920 M640,1110 L740,1020 M1440,380 L1470,380 L1480,1000 Q1470,1110 1290,1150 M1385,1060 L1290,1140 L1280,1265 M1490,300 L1490,390 M1340,290 L1440,380 M1500,430 L1580,520 L1600,620 L1640,740 M1600,620 L1720,570 M1300,660 L1345,630 L1345,740 L1300,760 Z M1400,620 L1440,600 L1440,840 L1400,820 Z M1520,880 L1560,880 L1550,1080 L1500,1110 M1100,1380 L1090,1300 M500,1130 L560,1140 L640,1110 L660,1140 L590,1200 M640,1230 L700,1220 L740,1250 M740,1290 L800,1240 L860,1230" stroke-width="2.4"/>
<path class="k" d="M960,285 L1420,475" stroke-width="5"/>
<path class="n" d="M920,835 L1385,510 M505,665 L625,690 M850,795 L920,835 L920,990 M985,1170 L985,950 M985,1170 L950,1370 M740,1030 L970,1140 M660,1110 L930,1230 M530,1060 Q560,980 640,960 M1510,680 Q1580,780 1590,900 M1585,900 L1580,1080"/>
</g>
<!-- 35_0418_etc.svg -->
<g transform="translate(960,860) scale(0.174216)">
<ellipse class="f" cx="842" cy="225" rx="34" ry="17"/>
<path class="f" d="M825,240 L825,358 L842,376 L860,358 L860,240 Z"/>
<path class="k" d="M825,265 L860,255 M825,285 L860,275 M825,305 L860,295 M825,325 L860,315 M825,345 L860,335 M828,225 L856,220" stroke-width="1.6"/>
<path class="f" d="M530,385 L685,305 L697,308 L697,590 L742,612 L742,670 L825,668 L860,690 Q870,760 900,790 Q940,820 1000,830 L1035,825 L1025,900 L1025,935 L915,980 Q900,920 850,880 Q760,790 660,845 L625,860 L555,825 L555,725 L515,710 L530,695 Z"/>
<path class="k" d="M697,590 L550,690 M742,612 L580,712 L580,810 M580,712 L555,725 M530,695 L550,690 M640,810 Q780,770 880,880 L940,915 M820,700 Q830,760 900,810 L1010,840 M915,980 L940,915 M1000,830 L1010,900"/>
<path class="n" d="M550,380 L550,690 M540,392 L690,315 M742,700 L580,810 M660,830 Q770,790 860,885 M850,700 Q860,760 920,800"/>
<path class="f" d="M1365,870 Q1360,850 1385,845 L1480,798 Q1505,795 1505,820 L1500,850 L1395,895 Q1365,895 1365,870 Z"/>
<path class="k" d="M1395,895 Q1385,870 1400,858 L1490,815"/>
<path class="f" d="M1395,900 Q1380,950 1420,972 Q1470,975 1475,925 Q1475,895 1450,890 Z"/>
<path class="n" d="M1420,972 Q1400,940 1425,910"/>
<ellipse class="k" cx="1685" cy="415" rx="62" ry="100" transform="rotate(24 1685 415)"/><ellipse class="k" cx="1685" cy="415" rx="42" ry="80" transform="rotate(24 1685 415)"/>
<ellipse class="k" cx="1815" cy="1042" rx="162" ry="195" transform="rotate(-20 1815 1042)"/><ellipse class="k" cx="1815" cy="1042" rx="132" ry="165" transform="rotate(-20 1815 1042)"/>
</g>
<!-- 36_hose_ul.svg -->
<g transform="translate(960,860) scale(0.174216)">
<path class="f" d="M1238.5,249.2 L1230.5,242.8 L1224.4,233.8 L1220.4,222.7 L1218.8,209.8 L1219.4,195.7 L1222.4,180.9 L1227.6,166.0 L1234.8,151.5 L1243.8,138.0 L1254.1,126.0 L1265.4,116.0 L1277.3,108.4 L1289.3,103.4 L1300.9,101.3 L1311.7,102.1 L1321.3,105.8 L1616.0,265.3 L1623.9,271.9 L1629.7,281.3 L1633.3,293.2 L1634.4,307.0 L1633.0,322.4 L1629.2,338.5 L1623.1,355.0 L1615.0,371.0 L1605.2,386.0 L1594.0,399.5 L1581.9,410.9 L1569.3,419.7 L1556.8,425.7 L1544.7,428.6 L1533.7,428.2 L1524.0,424.7 Z"/>
<path class="k" d="M1492.8,406.7 L1484.9,400.1 L1479.1,390.7 L1475.6,378.8 L1474.5,365.0 L1475.8,349.6 L1479.6,333.5 L1485.7,317.0 L1493.8,301.0 L1503.6,286.0 L1514.8,272.5 L1526.9,261.1 L1539.5,252.3 L1552.1,246.3 L1564.1,243.4 L1575.2,243.8 L1584.8,247.3 M1461.6,388.7 L1453.7,382.1 L1447.9,372.7 L1444.4,360.8 L1443.3,347.0 L1444.6,331.6 L1448.4,315.5 L1454.5,299.0 L1462.6,283.0 L1472.5,268.0 L1483.6,254.5 L1495.8,243.1 L1508.3,234.3 L1520.9,228.3 L1532.9,225.4 L1544.0,225.8 L1553.6,229.3 M1430.5,370.7 L1422.6,364.1 L1416.7,354.7 L1413.2,342.8 L1412.1,329.0 L1413.5,313.6 L1417.3,297.5 L1423.3,281.0 L1431.4,265.0 L1441.3,250.0 L1452.5,236.5 L1464.6,225.1 L1477.2,216.3 L1489.7,210.3 L1501.7,207.4 L1512.8,207.8 L1522.5,211.3 M1399.3,352.7 L1391.4,346.1 L1385.6,336.7 L1382.0,324.8 L1380.9,311.0 L1382.3,295.6 L1386.1,279.5 L1392.2,263.0 L1400.3,247.0 L1410.1,232.0 L1421.3,218.5 L1433.4,207.1 L1446.0,198.3 L1458.5,192.3 L1470.6,189.4 L1481.6,189.8 L1491.3,193.3 M1368.1,334.7 L1360.2,328.1 L1354.4,318.7 L1350.8,306.8 L1349.7,293.0 L1351.1,277.6 L1354.9,261.5 L1361.0,245.0 L1369.1,229.0 L1378.9,214.0 L1390.1,200.5 L1402.2,189.1 L1414.8,180.3 L1427.3,174.3 L1439.4,171.4 L1450.4,171.8 L1460.1,175.3 M1336.9,316.7 L1329.0,310.1 L1323.2,300.7 L1319.7,288.8 L1318.6,275.0 L1319.9,259.6 L1323.7,243.5 L1329.8,227.0 L1337.9,211.0 L1347.7,196.0 L1358.9,182.5 L1371.1,171.1 L1383.6,162.3 L1396.2,156.3 L1408.2,153.4 L1419.3,153.8 L1428.9,157.3 M1305.8,298.7 L1297.9,292.1 L1292.0,282.7 L1288.5,270.8 L1287.4,257.0 L1288.8,241.6 L1292.6,225.5 L1298.6,209.0 L1306.7,193.0 L1316.6,178.0 L1327.8,164.5 L1339.9,153.1 L1352.4,144.3 L1365.0,138.3 L1377.0,135.4 L1388.1,135.8 L1397.8,139.3 M1274.6,280.7 L1266.7,274.1 L1260.9,264.7 L1257.3,252.8 L1256.2,239.0 L1257.6,223.6 L1261.4,207.5 L1267.4,191.0 L1275.6,175.0 L1285.4,160.0 L1296.6,146.5 L1308.7,135.1 L1321.3,126.3 L1333.8,120.3 L1345.8,117.4 L1356.9,117.8 L1366.6,121.3 M1257.1,269.0 L1246.7,264.5 L1238.5,256.2 L1233.0,244.7 L1230.4,230.3 L1230.9,213.9 L1234.3,196.1 L1240.7,177.9 L1249.6,160.0 L1260.6,143.4 L1273.2,128.8 L1286.9,116.9 L1300.9,108.3 L1314.6,103.3 L1327.4,102.3 L1338.6,105.3 L1347.7,112.1 M1246.1,252.2 L1236.8,248.1 L1229.4,240.7 L1224.4,230.3 L1222.1,217.4 L1222.5,202.6 L1225.7,186.6 L1231.4,170.2 L1239.4,154.1 L1249.3,139.1 L1260.6,126.0 L1272.9,115.3 L1285.5,107.5 L1297.9,103.1 L1309.4,102.2 L1319.5,104.8 L1327.7,110.9"/>
<path class="w" d="M1615.0,371.0 L1605.2,386.0 L1594.0,399.5 L1581.9,410.9 L1569.3,419.7 L1556.8,425.7 L1544.7,428.6 L1533.7,428.2 L1524.0,424.7 L1516.1,418.1 L1510.3,408.7 L1506.7,396.8 L1505.6,383.0 L1507.0,367.6 L1510.8,351.5 L1516.9,335.0 L1525.0,319.0 L1534.8,304.0 L1546.0,290.5 L1558.1,279.1 L1570.7,270.3 L1583.2,264.3 L1595.3,261.4 L1606.3,261.8 L1616.0,265.3 L1623.9,271.9 L1629.7,281.3 L1633.3,293.2 L1634.4,307.0 L1633.0,322.4 L1629.2,338.5 L1623.1,355.0 L1615.0,371.0 Z"/>
<path class="k" d="M1606.9,366.3 L1598.3,379.6 L1588.6,391.5 L1578.2,401.7 L1567.5,409.7 L1556.9,415.1 L1546.7,417.9 L1537.5,417.9 L1529.5,415.1 L1523.1,409.6 L1518.5,401.6 L1515.8,391.5 L1515.3,379.5 L1516.8,366.2 L1520.4,352.1 L1525.9,337.8 L1533.1,323.7 L1541.7,310.4 L1551.4,298.5 L1561.8,288.3 L1572.5,280.3 L1583.1,274.9 L1593.3,272.1 L1602.5,272.1 L1610.5,274.9 L1616.9,280.4 L1621.5,288.4 L1624.2,298.5 L1624.7,310.5 L1623.2,323.8 L1619.6,337.9 L1614.1,352.2 L1606.9,366.3 Z"/>
</g>
<!-- 37_hose_0424.svg -->
<g transform="translate(1290,980) scale(0.087108)">
<path class="f" d="M1035.6,513.4 L1047.6,505.4 L1063.5,502.0 L1082.8,503.3 L1104.7,509.3 L1128.4,519.7 L1152.9,534.1 L1177.3,552.0 L1200.7,572.7 L1222.2,595.4 L1241.0,619.2 L1256.3,643.2 L1267.5,666.5 L1274.2,688.2 L1276.2,707.4 L1273.4,723.4 L1265.8,735.7 L710.1,1311.1 L698.1,1319.1 L682.2,1322.5 L662.9,1321.2 L641.0,1315.2 L617.4,1304.8 L592.8,1290.4 L568.4,1272.5 L545.0,1251.8 L523.5,1229.1 L504.7,1205.3 L489.5,1181.3 L478.2,1158.0 L471.5,1136.4 L469.5,1117.1 L472.4,1101.1 L479.9,1088.9 Z"/>
<path class="k" d="M510.5,1057.2 L522.4,1049.2 L538.4,1045.8 L557.7,1047.2 L579.5,1053.1 L603.2,1063.5 L627.7,1078.0 L652.2,1095.9 L675.6,1116.6 L697.1,1139.2 L715.8,1163.0 L731.1,1187.0 L742.3,1210.3 L749.0,1232.0 L751.0,1251.2 L748.2,1267.3 L740.7,1279.5 M541.0,1025.6 L553.0,1017.6 L568.9,1014.2 L588.2,1015.5 L610.1,1021.5 L633.8,1031.9 L658.3,1046.3 L682.7,1064.2 L706.1,1084.9 L727.6,1107.6 L746.4,1131.4 L761.7,1155.4 L772.9,1178.7 L779.6,1200.3 L781.6,1219.6 L778.8,1235.6 L771.2,1247.8 M571.6,993.9 L583.6,985.9 L599.5,982.5 L618.8,983.9 L640.7,989.8 L664.3,1000.2 L688.9,1014.7 L713.3,1032.6 L736.7,1053.3 L758.2,1075.9 L776.9,1099.7 L792.2,1123.7 L803.4,1147.0 L810.2,1168.7 L812.2,1187.9 L809.3,1204.0 L801.8,1216.2 M602.2,962.3 L614.1,954.3 L630.1,950.9 L649.3,952.2 L671.2,958.2 L694.9,968.6 L719.4,983.0 L743.9,1000.9 L767.3,1021.6 L788.8,1044.3 L807.5,1068.1 L822.8,1092.1 L834.0,1115.4 L840.7,1137.0 L842.7,1156.3 L839.9,1172.3 L832.4,1184.5 M632.7,930.6 L644.7,922.6 L660.6,919.2 L679.9,920.6 L701.8,926.5 L725.5,936.9 L750.0,951.4 L774.4,969.3 L797.8,990.0 L819.3,1012.6 L838.1,1036.4 L853.4,1060.4 L864.6,1083.7 L871.3,1105.4 L873.3,1124.6 L870.5,1140.7 L862.9,1152.9 M663.3,898.9 L675.3,891.0 L691.2,887.6 L710.5,888.9 L732.4,894.9 L756.0,905.3 L780.6,919.7 L805.0,937.6 L828.4,958.3 L849.9,981.0 L868.6,1004.8 L883.9,1028.8 L895.1,1052.1 L901.9,1073.7 L903.9,1093.0 L901.0,1109.0 L893.5,1121.2 M693.9,867.3 L705.8,859.3 L721.8,855.9 L741.0,857.3 L762.9,863.2 L786.6,873.6 L811.1,888.1 L835.6,906.0 L859.0,926.7 L880.5,949.3 L899.2,973.1 L914.5,997.1 L925.7,1020.4 L932.4,1042.1 L934.4,1061.3 L931.6,1077.3 L924.0,1089.6 M724.4,835.6 L736.4,827.7 L752.3,824.3 L771.6,825.6 L793.5,831.6 L817.2,842.0 L841.7,856.4 L866.1,874.3 L889.5,895.0 L911.0,917.7 L929.8,941.5 L945.0,965.5 L956.3,988.8 L963.0,1010.4 L965.0,1029.7 L962.2,1045.7 L954.6,1057.9 M755.0,804.0 L767.0,796.0 L782.9,792.6 L802.2,794.0 L824.1,799.9 L847.7,810.3 L872.2,824.8 L896.7,842.7 L920.1,863.3 L941.6,886.0 L960.3,909.8 L975.6,933.8 L986.8,957.1 L993.6,978.8 L995.6,998.0 L992.7,1014.0 L985.2,1026.3 M787.3,751.4 L797.4,737.3 L813.4,729.1 L834.6,727.2 L859.9,731.6 L888.1,742.3 L917.8,758.6 L947.8,779.8 L976.5,804.9 L1002.6,832.8 L1024.9,861.9 L1042.2,891.1 L1053.8,918.9 L1059.2,944.0 L1058.0,965.3 L1050.4,981.6 L1036.6,992.2 M820.3,739.9 L829.5,727.0 L844.1,719.6 L863.3,717.8 L886.3,721.9 L911.9,731.6 L939.0,746.4 L966.2,765.7 L992.3,788.5 L1016.1,813.8 L1036.3,840.4 L1052.1,866.9 L1062.6,892.2 L1067.5,915.0 L1066.4,934.3 L1059.5,949.1 L1047.0,958.8 M844.9,682.6 L855.4,668.0 L872.0,659.5 L894.0,657.5 L920.1,662.2 L949.4,673.2 L980.2,690.1 L1011.3,712.1 L1041.0,738.1 L1068.1,766.9 L1091.1,797.2 L1109.1,827.5 L1121.2,856.3 L1126.7,882.3 L1125.5,904.3 L1117.6,921.2 L1103.3,932.2 M882.8,675.1 L892.0,662.3 L906.6,654.8 L925.9,653.1 L948.8,657.2 L974.5,666.8 L1001.5,681.7 L1028.8,701.0 L1054.9,723.8 L1078.6,749.1 L1098.8,775.6 L1114.6,802.2 L1125.2,827.4 L1130.0,850.3 L1129.0,869.5 L1122.0,884.4 L1109.5,894.0 M907.4,617.9 L917.9,603.3 L934.5,594.8 L956.5,592.8 L982.7,597.4 L1011.9,608.5 L1042.8,625.4 L1073.8,647.4 L1103.5,673.4 L1130.6,702.2 L1153.7,732.5 L1171.6,762.7 L1183.7,791.5 L1189.2,817.6 L1188.0,839.5 L1180.1,856.4 L1165.8,867.5 M945.3,610.4 L954.6,597.6 L969.1,590.1 L988.4,588.3 L1011.3,592.4 L1037.0,602.1 L1064.1,616.9 L1091.3,636.2 L1117.4,659.1 L1141.1,684.3 L1161.3,710.9 L1177.1,737.4 L1187.7,762.7 L1192.6,785.5 L1191.5,804.8 L1184.5,819.6 L1172.0,829.3 M969.9,553.2 L980.5,538.5 L997.1,530.0 L1019.0,528.0 L1045.2,532.7 L1074.4,543.7 L1105.3,560.6 L1136.3,582.6 L1166.1,608.6 L1193.1,637.5 L1216.2,667.7 L1234.2,698.0 L1246.2,726.8 L1251.8,752.8 L1250.5,774.8 L1242.6,791.7 L1228.4,802.7 M1028.7,524.1 L1037.9,511.2 L1052.5,503.8 L1071.7,502.0 L1094.7,506.1 L1120.3,515.8 L1147.4,530.6 L1174.6,549.9 L1200.7,572.7 L1224.5,598.0 L1244.7,624.6 L1260.5,651.1 L1271.0,676.4 L1275.9,699.2 L1274.8,718.5 L1267.9,733.3 L1255.4,743.0"/>
<path class="w" d="M545.0,1251.8 L523.5,1229.1 L504.7,1205.3 L489.5,1181.3 L478.2,1158.0 L471.5,1136.4 L469.5,1117.1 L472.4,1101.1 L479.9,1088.9 L491.9,1080.9 L507.8,1077.5 L527.1,1078.8 L549.0,1084.8 L572.6,1095.2 L597.2,1109.6 L621.6,1127.5 L645.0,1148.2 L666.5,1170.9 L685.3,1194.7 L700.5,1218.7 L711.8,1242.0 L718.5,1263.6 L720.5,1282.9 L717.6,1298.9 L710.1,1311.1 L698.1,1319.1 L682.2,1322.5 L662.9,1321.2 L641.0,1315.2 L617.4,1304.8 L592.8,1290.4 L568.4,1272.5 L545.0,1251.8 Z"/>
<path class="k" d="M554.0,1242.5 L535.0,1222.6 L518.3,1201.8 L504.6,1181.0 L494.4,1160.9 L488.0,1142.3 L485.7,1125.9 L487.7,1112.4 L493.7,1102.2 L503.7,1095.8 L517.1,1093.4 L533.6,1095.1 L552.4,1100.8 L572.8,1110.3 L594.1,1123.3 L615.5,1139.3 L636.0,1157.5 L655.0,1177.4 L671.7,1198.2 L685.4,1219.0 L695.6,1239.1 L702.0,1257.7 L704.3,1274.1 L702.3,1287.6 L696.3,1297.8 L686.3,1304.2 L672.9,1306.6 L656.4,1304.9 L637.6,1299.2 L617.2,1289.7 L595.9,1276.7 L574.5,1260.7 L554.0,1242.5 Z"/>
<ellipse class="k" cx="1360" cy="340" rx="184" ry="114" transform="rotate(43 1360 340)"/><ellipse class="k" cx="1360" cy="340" rx="138" ry="66" transform="rotate(43 1360 340)"/>
</g>
<!-- 40_0409.svg -->
<g transform="translate(1640,380) scale(0.152439)">
<ellipse class="k" cx="1135" cy="217" rx="110" ry="62"/><ellipse class="k" cx="1135" cy="217" rx="84" ry="42"/>
<ellipse class="k" cx="627" cy="315" rx="100" ry="58"/><ellipse class="k" cx="627" cy="315" rx="72" ry="36"/>
<ellipse class="k" cx="782" cy="437" rx="97" ry="57"/><ellipse class="k" cx="782" cy="437" rx="70" ry="35"/>
<path class="f" d="M110,950 L155,870 L215,800 L300,830 L250,790 L200,740 L250,700 L290,750 L340,740 L560,880 L585,860 L580,590 L700,540 L750,770 L760,820 L1000,650 L1000,595 L1070,620 L1100,590 L1170,560 L1180,440 L1170,380 L1190,365 L1330,420 L1410,385 L1410,350 L1620,390 L1640,450 L1690,410 L1710,450 L1750,440 L1775,470 L1775,500 L1930,680 L1990,600 L2025,610 L2000,650 L1940,690 L1935,740 L1870,800 L1890,870 L1850,900 L1855,960 L1780,930 L1760,1000 L1790,1120 Q1800,1260 1700,1330 L1560,1340 L1400,1210 L1345,1140 L1330,1170 L1220,1180 L1165,1220 L1165,1360 Q1100,1470 870,1465 L800,1440 L740,1400 L640,1360 L600,1385 L560,1365 L480,1360 L460,1330 L480,1290 L540,1270 L490,1210 L470,1240 L440,1230 L440,1195 L400,1150 L300,1135 L190,1080 L160,1040 L120,1000 Q100,980 110,950 Z"/>
<path class="k" d="M410,1060 L590,900 M760,830 L1000,660 M1330,640 L1400,620 L1700,720 L1310,940 L1310,1050 L1090,1160 L840,1230 Q700,1260 640,1245 M480,1080 L410,1060 M480,1080 Q500,1200 560,1260 L800,1330 L940,1270 L1180,1170 M800,1330 L820,1430 M940,1270 L940,1400 M900,1290 L900,1410 M690,1340 L690,1380 M1000,1290 L1160,1230"/>
<path class="n" d="M420,1040 L600,950 M440,1060 L620,970 M760,850 L1000,690 M870,1220 Q1000,1160 1090,1060 L1310,940 M1050,1090 Q1080,1130 1090,1160 M1120,1050 Q1150,1090 1160,1130 M560,1200 Q650,1250 760,1240 M1700,720 L1580,790"/>
<path class="k" d="M330,790 Q250,870 262,1040 L300,1130 M400,830 Q310,900 300,1050 M215,800 Q150,860 150,900 L110,950 M250,700 L200,740 L300,830 L310,800 L250,790 M340,740 Q450,780 500,850 L560,880"/>
<path class="k" d="M585,860 L580,590 L700,540 L710,560 L720,700 L750,770 M600,600 L610,840 M625,620 L690,590 L690,670 L630,690 Z M650,640 L650,680 M690,670 L740,840" stroke-width="2.4"/>
<ellipse class="w" cx="700" cy="925" rx="105" ry="60" stroke-width="3"/><ellipse class="k" cx="700" cy="915" rx="78" ry="40" stroke-width="3"/>
<path class="k" d="M615,975 L615,1040 Q650,1070 700,1070 M660,895 L700,930 L740,895 M700,930 L700,955"/>
<ellipse class="w" cx="785" cy="1070" rx="108" ry="62" stroke-width="3"/><ellipse class="k" cx="785" cy="1060" rx="80" ry="42" stroke-width="3"/>
<path class="k" d="M690,1120 L695,1190 Q760,1240 880,1200 L885,1110 M745,1040 L785,1075 L825,1040 M785,1075 L785,1100 M780,1190 L800,1140"/>
<path class="k" d="M1100,640 Q1110,590 1200,570 Q1300,570 1330,640 L1330,730 Q1300,790 1220,800 Q1150,800 1120,770 L1110,700" stroke-width="2.4"/>
<ellipse class="k" cx="1225" cy="650" rx="85" ry="35"/><path class="k" d="M1145,660 Q1220,720 1310,670"/>
<path class="k" d="M1000,595 L1010,640 L1090,680 L1090,820 M1040,690 L1020,830 L1040,835 L1075,700 M1110,640 L1110,810 M880,680 L1000,620 M890,700 L960,660 M800,740 L800,710 Q815,690 830,710 L830,740 M770,770 L880,710 L880,680" stroke-width="2.4"/>
<path class="k" d="M1170,380 L1290,440 L1330,420 M1190,440 L1190,540 L1170,560 M1210,450 L1230,520 L1260,540 L1300,480 L1340,470 L1340,590 M1260,540 L1280,600 L1330,610 M1380,440 L1390,600 L1400,620 M1360,560 L1400,540 M1290,440 L1270,520" stroke-width="3"/>
<path class="k" d="M1410,350 L1410,470 L1480,520 L1500,540 L1500,680 M1410,470 L1560,530 L1600,560 M1430,380 L1600,420 L1610,560 M1440,400 L1560,480 M1460,390 L1580,470 M1520,370 L1540,400 M1620,390 L1600,420 M1430,540 L1490,580 M1540,620 Q1700,700 1760,820" stroke-width="2.6"/>
<path class="k" d="M1600,560 Q1780,650 1850,800 M1640,450 L1775,500 M1640,520 Q1800,600 1890,760 M1740,690 L1850,760 L1860,800 M1760,680 L1870,750 M1810,830 L1810,900 L1850,900 M1830,800 L1840,880 M1780,930 L1760,880 M1660,770 L1690,880 M1680,770 L1720,870 M1930,680 L1940,690 M1910,640 L1985,610"/>
<path class="f" d="M1310,980 Q1300,880 1400,800 Q1560,760 1700,880 Q1760,960 1760,1060 L1790,1120 Q1800,1260 1700,1330 L1560,1340 L1520,1250 L1400,1210 Q1320,1100 1310,980 Z"/>
<path class="k" d="M1345,840 Q1400,780 1500,790 M1360,1000 Q1360,900 1450,870 Q1600,850 1700,960 M1400,1010 Q1420,920 1520,900 Q1650,910 1720,1010 M1380,1100 Q1400,1200 1500,1260 M1450,1130 Q1470,1060 1560,1020 Q1680,1000 1740,1080" stroke-width="3"/>
<ellipse class="w" cx="1662" cy="1212" rx="128" ry="132" transform="rotate(-25 1662 1212)" stroke-width="2.6"/>
<path class="k" d="M1450,1130 L1530,1280 M1530,1200 L1560,1340"/>
<ellipse class="k" cx="1275" cy="1118" rx="30" ry="14" transform="rotate(-15 1275 1118)"/>
<ellipse class="k" cx="545" cy="1310" rx="22" ry="14" style="fill:#000"/>
<path class="k" d="M1240,1100 L1330,1090 L1345,1140 M540,1270 Q620,1280 640,1310 L640,1360"/>
</g>
<!-- 41_0401_0402_0407.svg -->
<g transform="translate(1730,190) scale(0.130662)">
<path class="f" d="M205,225 L440,75 L790,285 Q880,320 905,390 L905,430 L625,590 L580,612 L545,585 L440,550 L360,485 L205,410 Z"/>
<path class="k" d="M360,485 L345,435 Q360,408 400,418 M805,300 L805,400 M545,585 L625,590"/>
<path class="n" d="M228,235 L585,440 L805,310 M585,440 L585,522 M228,235 L228,400 M210,218 L440,92 M400,418 L585,522 L805,400"/>
<path class="f" d="M470,1215 L470,1250 Q520,1320 640,1320 Q750,1300 775,1230 L765,1190 Z"/>
<path class="f" d="M500,1300 L500,1350 Q540,1400 630,1400 Q720,1390 745,1340 L745,1300 Q640,1340 500,1300 Z"/>
<path class="n" d="M490,1250 Q560,1300 640,1300 Q720,1290 755,1240"/>
<path class="f" d="M295,925 L385,880 L470,805 L520,800 L600,850 L640,855 L790,940 L790,1120 L548,1255 L385,1165 L385,1110 L295,1065 Z"/>
<path class="k" d="M385,1000 L640,855 M385,1000 L385,1165 M320,905 L420,960 M345,890 L445,945 M375,870 L470,925 M470,805 L570,865 M440,830 L540,890 M410,1095 L505,1145 L505,1190 L410,1140 Z M740,1150 L740,1190"/>
<path class="n" d="M385,1000 L548,1080 L790,940 M548,1080 L548,1255"/>
<path class="f" d="M1690,1230 L1730,1190 L1730,1090 L1760,1075 L1790,1100 L1790,1180 L1815,1165 L1815,1060 L1860,1065 L1862,1345 L1790,1410 L1740,1435 L1700,1410 L1688,1380 Z"/>
<path class="k" d="M1720,1250 L1760,1200 L1840,1180 M1720,1250 L1720,1400 M1750,1090 L1750,1190 M1835,1065 L1835,1170" stroke-width="1.6"/>
<circle class="n" cx="1830" cy="1192" r="8"/><circle class="n" cx="1705" cy="1330" r="8"/><circle class="n" cx="1750" cy="1405" r="8"/>
</g>
<!-- 42_0405_0406.svg -->
<g transform="translate(1400,380) scale(0.130662)">
<path class="f" d="M595,180 L715,245 L715,275 L865,360 L865,420 L790,420 L775,440 L780,480 L865,525 L865,575 L790,555 L725,500 L715,515 L595,455 Z"/>
<path class="k" d="M715,245 L715,515 M600,270 L645,270 L645,330 L610,320 M600,295 L640,298 M740,300 L740,480 L790,555 M800,375 L845,375 L845,415 L800,415 Z M800,520 L845,520 L845,560 L800,560 Z" stroke-width="2.4"/>
<path class="f" d="M905,590 Q930,470 1040,395 Q1090,390 1130,410 L1250,480 Q1270,510 1275,545 L1385,600 L1350,680 L1290,720 L1385,765 L1340,840 L1290,855 L1240,850 L1110,775 L1090,795 L1040,785 L930,725 Q895,680 905,590 Z"/>
<path class="n" d="M1030,690 Q1020,580 1140,500 Q1200,480 1250,500 M1150,740 L1290,800 M1260,680 Q1290,630 1340,610 M1250,840 Q1280,790 1330,770"/>
<path class="k" d="M1060,700 Q1060,590 1160,520 L1210,510 L1290,555 L1385,600 M1100,700 Q1090,650 1130,615 L1290,720 M1110,775 L1150,700 L1200,690 M1040,785 Q1020,740 1030,690"/>
<ellipse class="k" cx="1080" cy="432" rx="30" ry="18" transform="rotate(30 1080 432)" stroke-width="1.6"/>
<ellipse class="k" cx="1568" cy="873" rx="152" ry="208" transform="rotate(21 1568 873)"/><ellipse class="k" cx="1568" cy="873" rx="126" ry="182" transform="rotate(21 1568 873)"/>
</g>
<!-- 43_0408.svg -->
<g transform="translate(2000,240) scale(0.108885)">
<path class="k" stroke-width="1.5" d="M395,315 Q450,370 470,420 Q490,480 510,570 Q530,640 590,705 Q650,760 720,795 Q810,825 900,845 Q980,855 1050,865 Q1150,880 1230,900 Q1310,925 1370,955 Q1440,995 1500,1040 Q1560,1100 1620,1170 L1720,1300 L1800,1390 L1830,1400"/>
<path class="n" d="M240,280 L335,222 L430,290 L345,335 Z M270,262 L380,312 M300,245 L395,298 M1795,1425 L1885,1383 L1980,1437 L1895,1482 Z M1825,1410 L1925,1465 M1855,1396 L1950,1452"/>
</g>
<!-- 44_0410.svg -->
<g transform="translate(1850,585) scale(0.065331)">
<path class="k" d="M830,400 L720,410 Q620,440 520,510 L400,650 Q375,720 385,780 L420,880 L470,990 Q520,1050 580,1090 L660,1120 L830,1115 Q900,1100 950,1070 L1040,990 Q1090,940 1110,890 L1135,800 L1135,700 L1100,640" stroke-width="2.4"/>
<path class="k" d="M880,520 L800,530 L720,570 L580,660 L480,770 Q445,810 450,850 L470,930 Q500,960 540,970 L620,985 L760,980 L860,950 L960,880 L1040,790 Q1075,740 1075,690 L1070,620 L1000,560 Z" stroke-width="2.4"/>
<path class="f" d="M830,345 L940,345 L1190,390 L1220,430 L1230,490 L1200,530 L1090,545 L880,520 L870,470 L830,400 Z" stroke-width="2.4"/>
<path class="k" d="M1090,400 L1090,545 M1200,520 L1380,670 L1465,830 L1300,690 L1090,580 L1090,545 M1150,600 L1400,750" stroke-width="2.4"/>
<ellipse class="k" cx="865" cy="405" rx="14" ry="30" stroke-width="1.6"/>
<path class="n" d="M530,610 L545,640 M585,570 L600,600 M630,540 L650,575 M680,510 L700,545 M730,470 L755,520 M780,460 L805,505"/>
</g>
<!-- 45_0422_0421.svg -->
<g transform="translate(1400,1140) scale(0.152439)">
<path class="f" d="M190,760 Q195,680 300,590 L350,590 L600,740 Q680,660 795,635 L800,600 L840,582 L1020,690 L1020,750 Q1150,870 1230,1110 L1290,1145 L1295,1360 L1250,1380 L1210,1365 Q1150,1450 1040,1495 Q900,1560 760,1490 L640,1395 L600,1420 L540,1425 Q420,1370 405,1230 Q405,1180 480,1140 L480,1000 L215,850 Q190,820 190,760 Z"/>
<ellipse class="w" cx="502" cy="1295" rx="88" ry="138" transform="rotate(-22 502 1295)"/>
<ellipse class="k" cx="505" cy="1292" rx="78" ry="126" transform="rotate(-22 505 1292)"/>
<path class="k" d="M600,740 L615,752 M795,635 L800,700 M995,700 L995,760 M1290,1145 L1215,1150 M1250,1180 L1250,1380 M1190,1270 L1190,1380 M510,1100 Q560,1050 630,1060 M640,1395 Q720,1370 770,1320"/>
<path class="n" d="M640,700 Q900,640 1080,900 Q1190,1100 1180,1300 Q1160,1420 1060,1480 M620,720 Q880,670 1050,920 Q1150,1100 1140,1300 M790,770 Q980,880 1060,1100 Q1100,1260 1080,1400 M630,840 Q720,840 800,915 M500,970 Q560,900 680,920 Q860,1000 900,1200 Q920,1360 830,1450 M460,980 Q455,890 520,855 M690,1080 Q770,1160 780,1280 Q770,1340 700,1370 M930,1120 Q980,1220 965,1340 M840,600 L1010,700 M650,1410 Q760,1480 880,1440"/>
<path class="f" d="M1340,470 L1380,440 L1375,340 L1440,275 L1480,210 Q1560,150 1680,140 L1690,118 L1720,115 L1870,215 L1870,250 Q2030,420 2100,690 L2150,710 L2155,840 L2100,860 Q2080,960 1990,1010 L1880,1030 L1840,1045 L1720,1045 Q1560,980 1440,800 Q1370,690 1360,590 L1365,520 L1340,510 Z"/>
<path class="k" d="M1440,275 Q1620,270 1780,470 Q1940,700 1940,900 L1880,1030 M1480,210 L1440,275 M2050,790 L2045,880"/>
<path class="w" d="M1440,500 Q1460,400 1560,390 Q1720,430 1820,650 Q1880,820 1800,910 Q1740,940 1660,900 Q1500,800 1440,600 Z"/>
<path class="n" d="M1500,250 Q1700,200 1860,360 Q2040,560 2070,860 M1520,225 Q1720,180 1880,340 Q2060,540 2090,850 M1470,420 Q1450,600 1560,780 Q1660,900 1760,900 M1340,470 L1430,520 M1400,360 Q1400,600 1520,800 Q1640,960 1800,980 Q1880,960 1900,900"/>
<path class="k" d="M1480,530 L1560,580 L1580,560 M1610,580 Q1620,520 1680,520 M1780,700 L1840,750 M1690,740 Q1740,760 1770,700" stroke-width="2.4"/>
<ellipse class="k" cx="1735" cy="625" rx="28" ry="55" transform="rotate(-20 1735 625)"/>
<path class="n" d="M1660,540 Q1680,640 1760,700 M1680,760 Q1740,790 1790,740"/>
</g>
<!-- 46_motor.svg -->
<g transform="translate(1690,1030) scale(0.152439)">
<path class="f" d="M540,440 L590,390 L700,320 L730,300 L730,195 L810,150 L820,260 L850,215 L875,220 L880,270 L920,245 L1040,320 L1040,345 L1130,390 L1130,300 L1190,320 L1195,420 L1210,440 L1215,500 L1240,540 Q1340,600 1370,700 L1380,760 L1310,790 L1310,870 L1290,870 L1270,820 L1270,980 L1150,1050 L1050,1100 L1140,1135 L1140,1170 L1050,1200 L1040,1250 L960,1300 L900,1260 L850,1275 L740,1280 Q640,1280 520,1170 Q380,1020 320,820 Q280,640 340,520 Q420,420 540,440 Z"/>
<path class="k" d="M540,440 Q420,420 340,520 Q280,640 320,820 Q380,1020 520,1170 Q640,1280 740,1280 L850,1275 L900,1225 Q940,1180 950,1080" stroke-width="2.6"/>
<path class="n" d="M530,470 Q430,450 365,540 Q320,640 350,820 Q410,1000 540,1150 Q640,1240 740,1250 M410,620 Q440,540 540,550 Q700,600 790,750 M410,620 Q390,800 470,960 Q560,1100 700,1150 M410,950 L580,840 M440,1000 L620,910 M530,470 L700,560 Q800,640 860,720"/>
<path class="k" d="M540,440 Q620,460 700,540 Q820,660 880,800 M590,390 Q700,420 790,520 Q870,600 900,680 M580,840 L620,860 L620,910" stroke-width="1.8"/>
<path class="k" d="M670,440 L800,370 L1000,470 L860,550 M700,320 L780,320 L1060,460 M780,320 L850,215 M730,195 L740,300 M810,150 L730,195 M850,215 L850,320 M880,270 L885,340 M920,245 L925,330 M960,280 L965,350 M1000,300 L1005,370 M1040,345 L1045,400 M1130,390 L1140,440 M1190,320 L1130,300 M1150,320 L1160,420 M860,550 L880,640 L1060,540 M880,640 L900,680 L940,670 L960,720 M1060,460 L1240,600 M1060,540 L1130,660 L1240,600" stroke-width="1.3"/>
<path class="k" d="M1080,440 Q1200,520 1300,620 Q1350,680 1360,740 M1150,640 L1280,600 M1200,700 L1330,640 M1230,740 L1340,690 M1280,780 L1370,740 M1200,660 L1260,740 M1240,650 L1300,720" stroke-width="2"/>
<path class="w" d="M640,870 L960,720 L1060,700 Q1160,760 1190,900 Q1190,960 1160,1000 L880,1130 L720,1140 Z"/>
<path class="k" d="M640,870 L940,710 L960,720 M660,880 L960,735 M760,880 Q860,940 880,1060 L880,1110 M720,1140 L730,880 M1060,700 Q1170,760 1190,900 M1040,710 Q1150,780 1165,920 M1160,1000 L1270,980 M1190,900 L1220,890 L1230,990 M1150,950 L1200,940 L1200,1000" stroke-width="1.8"/>
<path class="n" d="M640,870 Q680,1000 720,1140 M780,900 Q850,960 860,1060 M1020,1010 L1020,1060 M960,1050 L1000,1130 M940,1080 L920,1200 L900,1260"/>
<circle class="k" cx="742" cy="1035" r="40"/><circle class="k" cx="735" cy="1035" r="22"/><circle class="n" cx="790" cy="1040" r="18"/>
<path class="k" d="M950,1080 L1000,1130 L1130,1070 M1000,1130 L960,1180 L1050,1200 M930,1240 Q920,1270 960,1300 M1130,1140 Q1150,1150 1140,1170 M1290,810 L1310,815"/>
</g>
<!-- 47_clips.svg -->
<g transform="translate(1590,975) scale(0.065331)">
<g id="clip0420">
<path class="f" d="M770,340 L1020,195 L1110,205 L1100,390 L1125,410 L1120,550 L1090,580 L1095,740 L1155,820 L1145,880 L900,1040 L830,1055 L780,1030 L730,970 L725,895 L760,870 L790,870 L790,720 L760,700 L740,620 L770,550 L790,540 L785,360 Z" stroke-width="2.2"/>
<path class="k" d="M785,380 L1070,240 L1020,195 M810,385 L1080,250 M845,590 Q850,540 900,505 L1010,440 L1065,440 L1075,490 L1020,575 L890,670 L840,665 Z M790,560 Q810,640 830,660"/>
<ellipse class="k" cx="790" cy="950" rx="42" ry="55"/>
<path class="n" d="M905,850 L1020,785"/>
</g>
</g>
<g transform="translate(1899.5,1201) scale(0.065331)">
<path class="f" d="M770,340 L1020,195 L1110,205 L1100,390 L1125,410 L1120,550 L1090,580 L1095,740 L1155,820 L1145,880 L900,1040 L830,1055 L780,1030 L730,970 L725,895 L760,870 L790,870 L790,720 L760,700 L740,620 L770,550 L790,540 L785,360 Z" stroke-width="2.2"/>
<path class="k" d="M785,380 L1070,240 L1020,195 M810,385 L1080,250 M845,590 Q850,540 900,505 L1010,440 L1065,440 L1075,490 L1020,575 L890,670 L840,665 Z M790,560 Q810,640 830,660"/>
<ellipse class="k" cx="790" cy="950" rx="42" ry="55"/>
<path class="n" d="M905,850 L1020,785"/>
</g>
<!-- 48_0423.svg -->
<g transform="translate(1290,1340) scale(0.087108)">
<path class="f" d="M470,480 L680,330 Q780,300 900,380 Q1080,540 1130,720 L1130,880 L1090,940 L920,1040 L830,1100 L720,1120 Q560,1100 430,880 Q340,700 400,560 Z"/>
<path class="k" d="M580,430 Q760,460 880,660 Q960,860 920,1040 M640,370 Q840,420 960,640 Q1040,840 1000,985 M700,340 Q900,380 1040,600 Q1120,780 1100,930 M470,480 L680,330"/>
<ellipse class="f" cx="620" cy="800" rx="235" ry="335" transform="rotate(-22 620 800)"/>
<ellipse class="n" cx="625" cy="800" rx="200" ry="300" transform="rotate(-22 625 800)"/>
<ellipse class="w" cx="620" cy="800" rx="130" ry="218" transform="rotate(-25 620 800)" stroke-width="2.6"/>
</g>
<!-- 50_dashed.svg -->
<path class="d" d="M1584.3,268.8 C1588.3,266.8 1593.4,264.7 1599.5,262.7 C1605.6,260.7 1613.2,258.2 1620.9,256.6 C1628.5,255.0 1636.6,253.5 1645.2,252.9 C1653.9,252.3 1663.5,252.3 1672.7,252.9 C1681.8,253.5 1691.5,255.1 1700.1,256.6 C1708.8,258.1 1716.4,260.0 1724.5,262.1 C1732.6,264.1 1741.3,266.1 1748.9,268.8 C1756.5,271.4 1764.1,275.5 1770.2,277.9 C1776.3,280.4 1779.4,281.6 1785.5,283.4 C1791.6,285.2 1799.2,287.0 1806.8,288.6 C1814.5,290.2 1823.1,292.3 1831.2,293.2 C1839.3,294.1 1847.5,294.1 1855.6,294.1 C1863.7,294.1 1871.9,293.5 1880.0,293.2 C1888.1,292.8 1896.3,292.5 1904.4,292.0 C1912.5,291.4 1920.7,290.5 1928.8,290.1 C1936.9,289.7 1946.6,289.5 1953.2,289.5 C1959.8,289.5 1963.6,288.5 1968.4,290.1 C1973.2,291.7 1978.1,296.2 1982.1,299.3 C1986.2,302.3 1989.0,304.3 1992.8,308.4 C1996.6,312.5 2001.2,318.6 2005.0,323.7 C2008.8,328.7 2012.6,333.8 2015.7,338.9 C2018.7,344.0 2021.4,348.6 2023.3,354.1 C2025.2,359.7 2026.3,366.3 2027.0,372.4 C2027.6,378.5 2027.1,384.6 2027.0,390.7 C2026.8,396.8 2027.2,403.4 2026.3,409.0 C2025.5,414.6 2023.8,419.9 2021.8,424.3 C2019.7,428.6 2017.4,432.5 2014.1,434.9 C2010.8,437.4 2006.0,438.0 2002.0,438.9 C1997.9,439.8 1993.8,439.0 1989.8,440.1 C1985.7,441.2 1981.1,442.7 1977.6,445.6 C1974.0,448.6 1970.7,453.2 1968.4,457.8 C1966.1,462.4 1965.4,468.0 1963.8,473.0 C1962.3,478.1 1961.0,483.7 1959.3,488.3 C1957.5,492.9 1954.7,495.9 1953.2,500.5 C1951.6,505.1 1951.4,510.7 1950.1,515.7 C1948.9,520.8 1947.1,525.4 1945.5,531.0 C1944.0,536.6 1943.0,543.7 1941.0,549.3 C1938.9,554.9 1936.4,559.9 1933.4,564.5 C1930.3,569.1 1926.5,572.6 1922.7,576.7 C1918.9,580.8 1915.1,584.8 1910.5,588.9 C1905.9,593.0 1900.3,597.5 1895.2,601.1 C1890.2,604.7 1885.6,607.7 1880.0,610.2 C1874.4,612.8 1868.8,614.4 1861.7,616.3 C1854.6,618.3 1845.4,620.4 1837.3,621.8 C1829.2,623.3 1821.1,624.1 1812.9,624.9 C1804.8,625.6 1796.7,626.3 1788.5,626.4 C1780.4,626.5 1772.3,626.4 1764.1,625.5 C1756.0,624.6 1747.4,622.3 1739.8,620.9 C1732.1,619.5 1725.0,617.6 1718.4,617.3 C1711.8,616.9 1706.7,617.7 1700.1,618.8 C1693.5,619.9 1686.4,621.9 1678.8,624.0 C1671.2,626.0 1662.0,628.9 1654.4,631.0 C1646.8,633.0 1640.2,635.1 1633.0,636.2 C1625.9,637.2 1618.8,637.8 1611.7,637.1 C1604.6,636.3 1597.5,634.0 1590.4,631.6 C1583.3,629.1 1576.1,625.5 1569.0,622.4 C1561.9,619.4 1554.8,616.3 1547.7,613.3 C1540.6,610.2 1534.0,608.0 1526.3,604.1 C1518.7,600.3 1509.6,595.5 1502.0,590.4 C1494.3,585.3 1487.7,580.0 1480.6,573.7 C1473.5,567.3 1465.9,558.9 1459.3,552.3 C1452.7,545.7 1446.1,540.1 1441.0,534.0 C1435.9,527.9 1432.6,522.3 1428.8,515.7 C1425.0,509.1 1420.8,501.5 1418.1,494.4 C1415.5,487.3 1413.9,480.2 1412.9,473.0 C1411.9,465.9 1411.7,458.3 1412.0,451.7 C1412.4,445.1 1413.3,439.5 1415.1,433.4 C1416.8,427.3 1419.9,420.7 1422.7,415.1 C1425.5,409.5 1428.3,405.0 1431.8,399.9 C1435.4,394.8 1440.0,389.7 1444.0,384.6 C1448.1,379.6 1451.6,374.5 1456.2,369.4 C1460.8,364.3 1466.4,359.0 1471.5,354.1 C1476.5,349.3 1481.1,345.3 1486.7,340.4 C1492.3,335.6 1498.9,330.0 1505.0,325.2 C1511.1,320.4 1516.7,316.5 1523.3,311.5 C1529.9,306.4 1538.0,299.5 1544.6,294.7 C1551.2,289.9 1557.8,285.9 1562.9,282.5 C1568.0,279.1 1571.6,276.6 1575.1,274.3 C1578.7,272.0 1580.2,270.7 1584.3,268.8 Z"/>
<path class="d" d="M1846.6,934.9 C1852.1,933.1 1859.8,930.4 1866.4,929.3 C1873.1,928.2 1879.7,927.7 1886.3,928.3 C1892.9,928.8 1900.1,930.5 1906.2,932.6 C1912.2,934.6 1917.7,936.8 1922.7,940.5 C1927.7,944.2 1932.4,949.3 1935.9,954.8 C1939.5,960.2 1942.1,966.1 1944.2,973.0 C1946.3,979.9 1947.6,988.4 1948.5,996.1 C1949.5,1003.9 1949.7,1011.0 1949.9,1019.3 C1950.0,1027.6 1949.6,1037.0 1949.2,1045.8 C1948.8,1054.6 1948.4,1063.4 1947.5,1072.3 C1946.7,1081.1 1945.6,1089.9 1944.2,1098.7 C1942.8,1107.6 1940.9,1116.4 1939.3,1125.2 C1937.6,1134.1 1936.5,1142.9 1934.3,1151.7 C1932.1,1160.5 1928.8,1169.9 1926.0,1178.2 C1923.3,1186.5 1921.1,1193.6 1917.7,1201.4 C1914.4,1209.1 1910.3,1217.6 1906.2,1224.5 C1902.0,1231.4 1897.9,1236.7 1892.9,1242.7 C1888.0,1248.8 1882.4,1254.9 1876.4,1260.9 C1870.3,1267.0 1863.7,1273.1 1856.5,1279.1 C1849.3,1285.2 1841.1,1291.6 1833.3,1297.3 C1825.6,1303.1 1817.9,1308.4 1810.2,1313.9 C1802.4,1319.4 1794.7,1324.9 1787.0,1330.4 C1779.3,1336.0 1771.5,1341.8 1763.8,1347.0 C1756.1,1352.2 1748.9,1356.9 1740.7,1361.9 C1732.4,1366.9 1723.0,1372.1 1714.2,1376.8 C1705.3,1381.5 1697.1,1385.6 1687.7,1390.0 C1678.3,1394.4 1667.3,1399.4 1657.9,1403.3 C1648.5,1407.1 1640.3,1410.2 1631.4,1413.2 C1622.6,1416.2 1613.8,1419.0 1604.9,1421.5 C1596.1,1424.0 1587.3,1426.3 1578.5,1428.1 C1569.6,1429.9 1560.8,1431.5 1552.0,1432.4 C1543.2,1433.3 1533.8,1434.2 1525.5,1433.7 C1517.2,1433.3 1510.1,1431.8 1502.3,1429.7 C1494.6,1427.7 1486.3,1424.8 1479.2,1421.5 C1472.0,1418.2 1465.9,1414.6 1459.3,1409.9 C1452.7,1405.2 1445.5,1399.4 1439.4,1393.3 C1433.4,1387.3 1427.6,1380.6 1422.9,1373.5 C1418.2,1366.3 1414.3,1358.0 1411.3,1350.3 C1408.3,1342.6 1406.1,1335.4 1404.7,1327.1 C1403.3,1318.9 1402.8,1309.5 1403.0,1300.7 C1403.3,1291.8 1404.7,1283.0 1406.3,1274.2 C1408.0,1265.3 1410.2,1256.0 1413.0,1247.7 C1415.7,1239.4 1419.0,1232.2 1422.9,1224.5 C1426.8,1216.8 1431.2,1209.1 1436.1,1201.4 C1441.1,1193.6 1447.2,1185.4 1452.7,1178.2 C1458.2,1171.0 1463.2,1164.9 1469.2,1158.3 C1475.3,1151.7 1482.5,1144.5 1489.1,1138.5 C1495.7,1132.4 1502.3,1126.9 1509.0,1121.9 C1515.6,1116.9 1521.6,1113.1 1528.8,1108.7 C1536.0,1104.3 1544.3,1099.0 1552.0,1095.4 C1559.7,1091.8 1566.9,1089.8 1575.2,1087.2 C1583.4,1084.6 1592.8,1082.1 1601.6,1079.9 C1610.5,1077.7 1619.3,1075.8 1628.1,1073.9 C1636.9,1072.0 1645.8,1070.1 1654.6,1068.3 C1663.4,1066.5 1672.8,1065.1 1681.1,1063.0 C1689.4,1060.9 1697.1,1058.6 1704.2,1055.7 C1711.4,1052.8 1717.5,1049.6 1724.1,1045.8 C1730.7,1041.9 1737.9,1037.5 1744.0,1032.5 C1750.0,1027.6 1755.3,1021.8 1760.5,1016.0 C1765.8,1010.2 1770.4,1003.9 1775.4,997.8 C1780.4,991.7 1785.6,985.4 1790.3,979.6 C1795.0,973.8 1798.6,968.3 1803.5,963.0 C1808.5,957.8 1815.1,952.0 1820.1,948.1 C1825.1,944.3 1828.9,942.1 1833.3,939.9 C1837.8,937.7 1841.1,936.7 1846.6,934.9 Z"/>
<!-- 51_curveB.svg -->

<g transform="translate(340,400) scale(0.261324)">
<path class="l" d="M480,205 L668,190 M480,220 L825,275 M372,475 L487,484 M470,870 L645,830 M758,1028 L842,955 M1135,366 L1297,366"/>
</g>
<path class="l" d="M615.5,525.0 l5,6 M621.0,525.5 l-6,5 M614.0,544.0 l5,6 M619.5,544.5 l-6,5 M622.5,568.0 l5,6 M628.0,568.5 l-6,5 M628.5,580.0 l5,6 M634.0,580.5 l-6,5 M636.5,593.0 l5,6 M642.0,593.5 l-6,5 M644.5,604.0 l5,6 M650.0,604.5 l-6,5 M650.5,613.0 l5,6 M656.0,613.5 l-6,5 M703.5,684.0 l5,6 M709.0,684.5 l-6,5 M709.5,694.0 l5,6 M715.0,694.5 l-6,5 M715.5,704.0 l5,6 M721.0,704.5 l-6,5 M721.5,714.0 l5,6 M727.0,714.5 l-6,5 M743.5,771.0 l5,6 M749.0,771.5 l-6,5 M747.5,785.0 l5,6 M753.0,785.5 l-6,5 M751.5,799.0 l5,6 M757.0,799.5 l-6,5 M754.5,813.0 l5,6 M760.0,813.5 l-6,5 M756.5,825.0 l5,6 M762.0,825.5 l-6,5"/>
<path class="l" d="M819.5,812.6 L781.6,864.3"/>
<path class="l" stroke-dasharray="78 16 39 24" d="M573.1,655.3 C573.3,662.0 573.5,682.9 574.4,695.8 C575.3,708.6 577.1,723.7 578.3,732.4 C579.5,741.1 579.0,739.2 581.4,748.0 C583.8,756.8 589.5,775.2 592.7,785.2 C595.9,795.2 596.0,799.4 600.5,808.2 C605.0,817.0 612.4,827.5 620.0,838.0 C627.6,848.5 639.9,864.0 646.2,871.4 C652.5,878.8 650.1,877.8 658.0,882.6 C665.9,887.4 683.6,896.1 693.3,900.1 C703.0,904.1 705.1,906.1 716.0,906.7 C726.9,907.3 746.3,906.5 758.6,903.5 C770.9,900.5 783.0,893.0 790.0,888.4 C797.0,883.8 794.4,882.2 800.9,876.1 C807.4,870.0 821.0,858.0 829.2,851.5 C837.4,845.0 840.8,842.3 850.1,837.4 C859.4,832.5 872.8,826.4 885.0,822.0 C897.2,817.6 914.1,813.3 923.2,810.8 C932.3,808.3 930.4,807.9 939.7,807.1 C949.0,806.3 968.6,805.8 978.9,806.1 C989.2,806.4 991.4,806.6 1001.6,808.7 C1011.8,810.9 1027.6,815.3 1040.0,819.0 C1052.4,822.7 1067.3,827.9 1076.1,831.1 C1084.9,834.3 1084.0,834.4 1092.6,838.2 C1101.2,842.0 1118.4,849.1 1127.6,853.9 C1136.8,858.7 1140.6,861.9 1148.0,866.9 C1155.4,871.9 1168.0,881.1 1172.0,884.0"/>
<g transform="translate(170,650) scale(0.174216)">
<path class="l" d="M555,1520 L880,1170 M610,1535 L1200,1390 M610,1580 L935,1600 M283,1739 L297,3205"/>
</g>
<g transform="translate(200,1050) scale(0.174216)">
<path class="l" d="M112,-560 L118,908 M118,908 L400,358 M118,908 L310,800 M118,908 L1195,1230 M118,908 L345,1195 M1640,785 L1580,1060"/>
</g>
<g transform="translate(460,1420) scale(0.087108)">
<path class="l" d="M212,690 L38,1190"/>
</g>
<g transform="translate(1100,740) scale(0.217770)">
<path class="l" d="M525,230 L730,800 M408,1112 L480,1215"/>
</g>
<g transform="translate(960,860) scale(0.174216)">
<path class="l" d="M590,70 L768,170 M1315,700 L1400,825"/>
</g>
<g transform="translate(1290,980) scale(0.087108)">
<path class="l" d="M1480,480 L1395,1280 M1010,1030 L1395,1280"/>
</g>
<g transform="translate(1640,380) scale(0.152439)">
<path class="l" d="M760,0 L1035,143 M405,210 L502,280 M2080,793 L2260,885"/>
</g>
<g transform="translate(1730,190) scale(0.130662)">
<path class="l" d="M40,1375 L560,1650"/>
</g>
<g transform="translate(1400,380) scale(0.130662)">
<path class="l" d="M670,568 L610,890 M925,735 L625,900 M1482,1105 L1428,1290"/>
</g>
<g transform="translate(1400,1140) scale(0.152439)">
<path class="l" d="M1480,0 L1540,155"/>
</g>
<path class="l" stroke-dasharray="78 16 39 24" d="M600.2,1492.9 C607.3,1494.2 629.9,1498.0 642.7,1500.9 C655.5,1503.8 662.3,1506.6 676.9,1510.3 C691.4,1514.0 708.8,1518.0 729.8,1523.2 C750.8,1528.4 783.5,1537.8 803.0,1541.7 C822.5,1545.5 832.9,1545.3 846.6,1546.2 C860.2,1547.1 871.2,1547.2 884.9,1546.9 C898.5,1546.6 911.6,1545.6 928.4,1544.1 C945.3,1542.7 970.8,1541.1 985.9,1538.2 C1001.0,1535.3 1010.5,1530.0 1019.0,1526.7 C1027.6,1523.4 1030.8,1522.1 1037.1,1518.3 C1043.5,1514.6 1049.9,1510.9 1057.4,1504.0 C1064.8,1497.2 1075.6,1485.2 1081.7,1477.2 C1087.8,1469.3 1091.0,1462.7 1093.9,1456.3 C1096.8,1449.9 1097.1,1447.6 1099.2,1438.9 C1101.2,1430.2 1104.2,1412.9 1106.1,1404.0 C1108.0,1395.2 1108.3,1393.0 1110.7,1385.9 C1113.0,1378.8 1115.6,1371.3 1120.1,1361.5 C1124.5,1351.8 1131.7,1338.6 1137.5,1327.4 C1143.3,1316.2 1146.8,1307.5 1154.9,1294.3 C1163.0,1281.1 1178.3,1259.2 1186.3,1248.3 C1194.3,1237.4 1196.0,1236.9 1203.0,1229.1 C1210.0,1221.4 1219.3,1211.1 1228.1,1202.0 C1236.9,1192.8 1244.6,1185.4 1256.0,1174.1 C1267.3,1162.8 1283.0,1147.5 1296.0,1134.0 C1309.1,1120.5 1328.0,1100.0 1334.4,1093.2"/>
<path class="l" d="M1755.5,1359 L1798.8,1394.7"/>
<g class="t">
<text x="670.2" y="333.8">0434</text>
<text x="384.9" y="463.7">0415</text>
<text x="694.2" y="503.5">0430</text>
<text x="359.9" y="532.0">0433</text>
<text x="384.9" y="644.1">0432</text>
<text x="482.7" y="698.1">0431</text>
<text x="728.8" y="682.8">0429</text>
<text x="185.1" y="733.3">0428</text>
<text x="791.0" y="804.1">0430</text>
<text x="1089.1" y="646.5">0413</text>
<text x="1864.6" y="246.4">0401</text>
<text x="1846.3" y="333.5">0402</text>
<text x="1663.5" y="362.5">0403</text>
<text x="1632.4" y="405.8">0404</text>
<text x="1921.6" y="408.8">0407</text>
<text x="2132.4" y="320.8">0408</text>
<text x="1442.5" y="524.4">0405</text>
<text x="1540.3" y="578.9">0406</text>
<text x="1988.3" y="543.8">0409</text>
<text x="1877.3" y="686.8">0410</text>
<text x="1354.4" y="610.0">0411</text>
<text x="1161.0" y="559.3">0414</text>
<text x="1169.1" y="779.3">0415</text>
<text x="198.4" y="933.5">0426</text>
<text x="132.1" y="1221.9">0425</text>
<text x="454.7" y="1180.6">0427</text>
<text x="428.2" y="1558.8">0415</text>
<text x="991.3" y="863.7">0414</text>
<text x="965.8" y="1002.8">0418</text>
<text x="1532.1" y="888.6">0412</text>
<text x="1614.6" y="978.2">0420</text>
<text x="1148.6" y="972.8">0416</text>
<text x="1378.4" y="1119.8">0424</text>
<text x="1586.1" y="1126.4">0421</text>
<text x="1127.4" y="1185.5">0417</text>
<text x="1506.2" y="1406.4">0422</text>
<text x="1326.4" y="1469.5">0423</text>
<text x="1774.5" y="1431.3">0419</text>
<text x="1934.3" y="1308.1">0420</text>
<text x="23.4" y="1618.6" style="font-size:33.4px">58300000122061 aet 000 b 4/6</text>
</g>
</svg>
</body></html>
